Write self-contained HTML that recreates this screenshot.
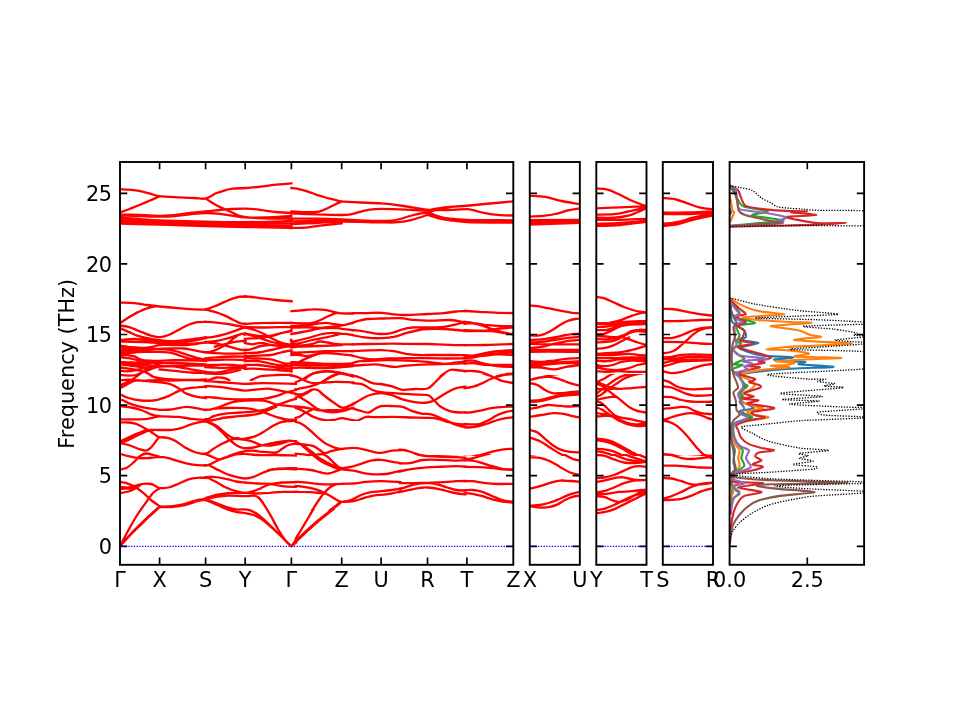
<!DOCTYPE html>
<html lang="en"><head><meta charset="utf-8"><title>Phonon band structure and DOS</title>
<style>html,body{margin:0;padding:0;background:#fff;}body{width:960px;height:720px;overflow:hidden;}svg{display:block;will-change:transform;}text{font-family:"DejaVu Sans","Liberation Sans",sans-serif;font-size:20.83px;fill:#000;}.b{fill:none;stroke:#f00;stroke-width:2.3;stroke-linecap:square;stroke-linejoin:round;}.sp{fill:none;stroke:#000;stroke-width:1.9;stroke-linecap:square;}.tk{stroke:#000;stroke-width:1.67;fill:none;}.z{stroke:#00f;stroke-width:1.35;stroke-dasharray:1.3 1.46;fill:none;}.d{fill:none;stroke-width:2.1;stroke-linejoin:round;}.t{fill:none;stroke:#000;stroke-width:1.3;stroke-dasharray:1.3 1.46;}</style></head><body>
<svg width="960" height="720" viewBox="0 0 960 720">
<rect width="960" height="720" fill="#fff"/>
<defs>
<clipPath id="c0"><rect x="120.00" y="162.00" width="393.30" height="402.80"/></clipPath>
<clipPath id="c1"><rect x="529.75" y="162.00" width="50.10" height="402.80"/></clipPath>
<clipPath id="c2"><rect x="596.30" y="162.00" width="50.20" height="402.80"/></clipPath>
<clipPath id="c3"><rect x="662.80" y="162.00" width="50.20" height="402.80"/></clipPath>
<clipPath id="c4"><rect x="729.60" y="162.00" width="134.50" height="402.80"/></clipPath>
</defs>
<defs>
<clipPath id="k0"><rect x="-1.50" y="-1.00" width="294.40" height="722.00"/></clipPath>
<clipPath id="k1"><rect x="289.90" y="-1.00" width="139.10" height="722.00"/></clipPath>
<clipPath id="k2"><rect x="426.00" y="-1.00" width="95.50" height="722.00"/></clipPath>
<clipPath id="k3"><rect x="-1.50" y="379.00" width="208.60" height="342.00"/></clipPath>
<clipPath id="k4"><rect x="289.90" y="-1.00" width="64.60" height="382.00"/><rect x="294.50" y="379.00" width="60.00" height="42.00"/><rect x="294.50" y="509.00" width="60.00" height="212.00"/></clipPath>
<clipPath id="k5"><rect x="351.50" y="-1.00" width="115.00" height="377.00"/></clipPath>
<clipPath id="k6"><rect x="351.50" y="374.00" width="115.00" height="47.00"/><rect x="398.50" y="419.00" width="68.00" height="37.00"/></clipPath>
<clipPath id="k7"><rect x="398.50" y="454.00" width="68.00" height="57.00"/><rect x="351.50" y="509.00" width="115.00" height="212.00"/></clipPath>
<clipPath id="k8"><rect x="463.50" y="-1.00" width="58.00" height="377.00"/></clipPath>
<clipPath id="k9"><rect x="463.50" y="374.00" width="58.00" height="82.00"/></clipPath>
<clipPath id="k10"><rect x="463.50" y="454.00" width="58.00" height="267.00"/></clipPath>
<clipPath id="k11"><rect x="243.70" y="-1.00" width="49.20" height="382.00"/></clipPath>
<clipPath id="k12"><rect x="289.90" y="-1.00" width="64.60" height="382.00"/></clipPath>
<clipPath id="k13"><rect x="-1.50" y="-1.00" width="208.60" height="382.00"/></clipPath>
<clipPath id="k14"><rect x="204.10" y="379.00" width="93.40" height="92.00"/></clipPath>
<clipPath id="k15"><rect x="204.10" y="469.00" width="93.40" height="252.00"/></clipPath>
<clipPath id="k16"><rect x="294.50" y="419.00" width="107.00" height="92.00"/></clipPath>
<clipPath id="k17"><rect x="204.10" y="-1.00" width="42.60" height="382.00"/></clipPath>
<clipPath id="k18"><rect x="518.50" y="-1.00" width="203.00" height="377.00"/></clipPath>
<clipPath id="k19"><rect x="518.50" y="374.00" width="203.00" height="82.00"/></clipPath>
<clipPath id="k20"><rect x="518.50" y="454.00" width="203.00" height="267.00"/></clipPath>
</defs>
<g clip-path="url(#c0)">
<path class="b" clip-path="url(#k0)" d="M120.0 189.2C121.3 189.3 125.0 189.4 128.0 189.6C130.9 189.8 134.1 190.0 137.7 190.6C141.2 191.2 145.7 192.5 149.3 193.4C153.0 194.3 154.5 195.5 159.6 196.2C164.7 196.9 174.1 197.1 180.0 197.4C185.9 197.7 190.7 197.8 195.0 198.0C199.3 198.2 202.1 199.3 205.6 198.5C209.1 197.7 212.8 194.7 216.0 193.3C219.2 191.9 222.2 191.1 225.0 190.3C227.8 189.5 229.3 189.1 232.7 188.7C236.1 188.3 241.0 188.3 245.2 188.0C249.4 187.7 252.6 187.6 257.7 187.0C262.8 186.4 270.4 185.3 276.0 184.7C281.6 184.1 288.8 183.5 291.4 183.3M120.0 212.5C121.7 211.9 126.7 210.1 130.0 208.8C133.3 207.5 136.7 206.2 140.0 204.8C143.3 203.4 146.7 201.9 150.0 200.5C153.3 199.1 158.0 196.9 159.6 196.2M205.6 198.5C206.5 199.1 209.3 200.9 211.0 202.0C212.7 203.1 214.1 203.9 216.0 205.0C217.9 206.1 219.9 207.0 222.7 208.3C225.5 209.6 229.9 211.6 232.7 212.8C235.5 214.1 236.4 215.0 239.3 215.8C242.2 216.6 244.9 217.2 250.0 217.6C255.1 218.0 263.1 218.3 270.0 218.5C276.9 218.7 287.8 218.6 291.4 218.6M120.0 214.3C123.3 214.4 133.4 214.8 140.0 215.0C146.6 215.2 154.6 215.7 159.6 215.8C164.6 215.9 166.6 215.7 170.0 215.4C173.4 215.2 176.3 214.8 180.0 214.3C183.7 213.8 187.7 213.1 192.0 212.6C196.3 212.1 200.9 211.9 205.6 211.5C210.3 211.1 215.6 210.4 220.0 210.0C224.4 209.6 227.8 209.2 232.0 209.0C236.2 208.8 240.5 208.6 245.2 208.7C249.9 208.8 254.9 209.2 260.0 209.8C265.1 210.4 270.8 211.5 276.0 212.0C281.2 212.5 288.8 212.8 291.4 213.0M120.0 215.2C123.3 215.3 133.4 215.8 140.0 216.0C146.6 216.2 153.8 216.6 159.6 216.6C165.4 216.6 169.9 216.4 175.0 216.0C180.1 215.6 184.9 214.8 190.0 214.3C195.1 213.8 200.9 213.1 205.6 213.0C210.3 212.9 213.6 213.2 218.0 213.6C222.4 214.0 227.5 215.0 232.0 215.6C236.5 216.2 239.7 217.1 245.2 217.4C250.7 217.7 257.3 217.6 265.0 217.4C272.7 217.2 287.0 216.2 291.4 216.0M120.0 217.4C126.6 217.9 145.3 219.7 159.6 220.4C173.9 221.1 191.3 221.3 205.6 221.6C219.9 221.9 230.9 222.3 245.2 222.2C259.5 222.1 283.7 221.2 291.4 221.0M120.0 219.4C126.6 219.8 145.3 221.3 159.6 222.0C173.9 222.7 191.3 223.2 205.6 223.5C219.9 223.8 230.9 224.0 245.2 224.0C259.5 224.0 283.7 223.7 291.4 223.6M120.0 221.0C126.6 221.3 145.3 222.2 159.6 222.8C173.9 223.4 191.3 224.3 205.6 224.8C219.9 225.3 230.9 225.4 245.2 225.6C259.5 225.8 283.7 226.1 291.4 226.2M120.0 223.5C126.6 223.7 145.3 224.2 159.6 224.6C173.9 225.0 191.3 225.6 205.6 226.0C219.9 226.4 230.9 226.7 245.2 227.0C259.5 227.3 283.7 227.7 291.4 227.8"/>
<path class="b" clip-path="url(#k1)" d="M291.4 188.0C292.8 188.2 297.2 188.7 300.0 189.3C302.8 189.9 305.2 190.7 308.0 191.6C310.8 192.5 314.0 193.9 316.7 194.8C319.4 195.7 321.8 196.3 324.0 197.0C326.2 197.7 328.0 198.2 330.0 198.7C332.0 199.2 334.1 199.8 336.0 200.2C337.9 200.6 337.7 201.0 341.7 201.4C345.7 201.8 353.4 202.2 360.0 202.5C366.6 202.8 374.4 202.9 381.1 203.4C387.8 203.9 394.4 204.7 400.0 205.5C405.6 206.3 410.4 207.2 415.0 208.0C419.6 208.8 425.4 209.7 427.5 210.0M291.4 211.5C293.7 211.6 300.8 212.1 305.0 212.2C309.2 212.3 313.9 212.3 316.7 212.0C319.5 211.7 320.1 211.3 322.0 210.6C323.9 209.9 325.8 209.0 328.0 208.0C330.2 207.0 332.7 205.6 335.0 204.5C337.3 203.4 340.6 201.9 341.7 201.4M291.4 213.4C295.6 213.6 308.3 214.1 316.7 214.4C325.1 214.7 336.1 215.0 341.7 215.0C347.2 215.0 347.8 214.7 350.0 214.4C352.2 214.1 353.0 213.8 355.0 213.3C357.0 212.8 359.5 211.9 362.0 211.3C364.5 210.7 366.8 210.0 370.0 209.6C373.2 209.2 376.1 208.9 381.1 208.8C386.1 208.8 394.4 209.1 400.0 209.3C405.6 209.5 410.4 209.9 415.0 210.2C419.6 210.4 425.4 210.7 427.5 210.8M291.4 218.6C295.6 218.6 308.3 218.5 316.7 218.6C325.1 218.7 334.5 219.0 341.7 219.3C348.9 219.6 353.4 220.1 360.0 220.4C366.6 220.7 375.8 221.0 381.1 221.0C386.4 221.0 388.9 220.9 392.0 220.6C395.1 220.3 397.0 219.8 400.0 219.0C403.0 218.2 406.7 216.9 410.0 216.0C413.3 215.1 417.1 214.2 420.0 213.6C422.9 213.0 426.2 212.6 427.5 212.4M291.4 221.4C295.6 221.3 308.3 221.1 316.7 221.0C325.1 220.9 337.5 220.7 341.7 220.6M291.4 224.0C295.6 223.8 308.3 223.4 316.7 223.0C325.1 222.6 331.0 221.7 341.7 221.6C352.4 221.5 372.2 222.3 381.1 222.4C390.0 222.5 391.0 222.6 395.0 222.4C399.0 222.2 401.7 222.0 405.0 221.4C408.3 220.8 411.2 220.1 415.0 219.0C418.8 217.9 425.4 215.5 427.5 214.8M291.4 228.0C293.7 227.9 300.2 228.0 305.0 227.6C309.8 227.2 313.9 226.3 320.0 225.6C326.1 224.9 338.1 223.7 341.7 223.3"/>
<path class="b" clip-path="url(#k2)" d="M427.5 210.6C428.5 211.3 431.1 213.5 433.3 214.6C435.6 215.7 438.2 216.3 441.0 217.0C443.8 217.7 445.7 218.1 450.0 218.6C454.3 219.1 460.2 219.7 466.9 220.0C473.6 220.3 482.3 220.1 490.0 220.2C497.7 220.2 509.4 220.3 513.3 220.3M427.5 211.0C428.5 210.7 429.6 209.9 433.3 209.2C437.1 208.5 444.4 207.6 450.0 207.0C455.6 206.4 460.2 206.4 466.9 205.8C473.6 205.2 482.3 204.3 490.0 203.6C497.7 202.9 509.4 201.8 513.3 201.4M427.5 210.0C430.4 210.0 438.4 210.1 445.0 210.0C451.6 209.9 462.2 209.2 466.9 209.2C471.6 209.2 470.8 209.7 473.0 210.2C475.2 210.7 477.5 211.4 480.0 212.0C482.5 212.6 485.5 213.2 488.0 213.6C490.5 214.0 492.2 214.3 495.0 214.6C497.8 214.9 501.9 215.2 505.0 215.3C508.1 215.5 511.9 215.5 513.3 215.5M427.5 212.5C429.2 212.0 434.2 210.3 438.0 209.4C441.8 208.5 445.2 207.6 450.0 207.0C454.8 206.4 460.2 206.2 466.9 205.6C473.6 205.0 482.3 204.2 490.0 203.5C497.7 202.8 509.4 201.8 513.3 201.4M427.5 213.3C429.1 213.8 433.2 215.4 437.0 216.4C440.8 217.4 445.0 218.4 450.0 219.2C455.0 220.0 460.2 220.9 466.9 221.3C473.6 221.7 482.3 221.6 490.0 221.7C497.7 221.8 509.4 221.8 513.3 221.8M427.5 214.8C429.6 215.4 436.2 217.7 440.0 218.6C443.8 219.5 445.5 219.7 450.0 220.3C454.5 220.9 456.3 221.6 466.9 222.0C477.4 222.4 505.6 222.5 513.3 222.6"/>
<path class="b" clip-path="url(#k3)" d="M120.0 325.4C121.4 325.6 125.0 325.6 128.5 326.5C132.0 327.4 137.2 329.5 141.0 330.9C144.8 332.2 147.9 333.7 151.0 334.6C154.1 335.5 157.1 336.1 159.6 336.2C162.1 336.4 163.5 336.0 166.0 335.2C168.5 334.5 171.6 332.9 174.4 331.5C177.1 330.1 179.9 328.5 182.6 327.1C185.4 325.8 188.6 324.4 191.0 323.4C193.4 322.4 194.8 321.8 197.2 321.2C199.7 320.7 202.5 320.3 205.6 320.2C208.8 320.2 212.6 320.5 216.0 320.8C219.4 321.0 222.7 321.4 226.0 322.0C229.3 322.6 234.3 323.9 236.0 324.2M120.0 327.9C121.4 328.5 125.7 330.4 128.5 331.6C131.3 332.8 134.1 334.1 136.9 335.0C139.6 335.9 142.5 336.6 145.1 337.2C147.8 337.9 150.2 338.3 152.6 338.8C155.0 339.2 156.7 339.6 159.6 340.0C162.5 340.4 166.3 340.9 170.1 341.0C174.0 341.1 179.1 340.7 182.6 340.4C186.1 340.0 188.6 339.4 191.0 339.0C193.4 338.6 194.8 338.3 197.2 338.0C199.7 337.7 202.5 337.4 205.6 337.0C208.8 336.6 212.6 336.2 216.0 335.5C219.4 334.8 222.7 333.9 226.0 333.0C229.3 332.1 234.3 330.4 236.0 329.9M120.0 339.6C122.1 339.7 128.4 339.9 132.6 340.0C136.8 340.1 141.8 340.2 145.1 340.4C148.5 340.5 150.2 340.6 152.6 340.9C155.0 341.1 156.7 341.6 159.6 341.9C162.5 342.2 166.3 342.5 170.1 342.6C174.0 342.7 178.3 342.6 182.6 342.4C186.9 342.1 192.2 341.5 196.0 341.1C199.8 340.8 202.3 340.5 205.6 340.1C209.0 339.7 212.6 339.3 216.0 338.8C219.4 338.2 222.7 337.6 226.0 336.8C229.3 335.9 234.3 334.1 236.0 333.6M120.0 341.9C121.4 341.9 125.7 342.0 128.5 342.1C131.3 342.2 134.1 342.6 136.9 342.6C139.6 342.7 142.5 342.5 145.1 342.4C147.8 342.2 150.2 342.0 152.6 341.9C155.0 341.8 158.5 341.9 159.6 341.9M120.0 343.4C121.4 343.6 125.7 344.5 128.5 345.0C131.3 345.5 134.1 346.0 136.9 346.2C139.6 346.5 142.5 346.6 145.1 346.5C147.8 346.4 150.2 345.8 152.6 345.4C155.0 345.0 156.7 344.4 159.6 344.1C162.5 343.9 166.3 344.0 170.1 344.0C174.0 344.0 178.3 344.1 182.6 344.2C186.9 344.4 192.2 344.8 196.0 344.9C199.8 344.9 201.2 344.5 205.6 344.5C210.0 344.5 217.2 344.5 222.2 344.9C227.3 345.2 233.7 346.4 236.0 346.8M120.0 345.0C121.4 345.4 125.7 346.6 128.5 347.1C131.3 347.6 134.1 347.9 136.9 348.0C139.6 348.1 142.5 348.0 145.1 348.0C147.8 348.0 150.2 347.9 152.6 348.0C155.0 348.1 156.7 348.2 159.6 348.4C162.5 348.5 167.0 348.5 170.1 348.9C173.3 349.2 175.7 349.8 178.5 350.4C181.3 350.9 184.0 351.5 186.9 352.1C189.8 352.7 192.9 353.4 196.0 354.0C199.1 354.6 201.2 355.2 205.6 355.8C210.0 356.2 217.2 356.8 222.2 357.0C227.3 357.2 233.7 357.0 236.0 357.0M120.0 347.5C121.4 347.6 125.0 348.1 128.5 348.4C132.0 348.6 135.8 348.9 141.0 348.9C146.2 348.8 154.4 348.1 159.6 348.0C164.8 347.9 168.3 348.0 172.2 348.0C176.2 348.0 180.0 347.8 183.5 348.0C187.0 348.2 190.2 349.0 193.5 349.5C196.8 350.0 200.6 351.0 203.5 351.2C206.4 351.5 208.3 351.7 211.0 351.2C213.7 350.8 216.8 349.7 219.8 348.6C222.7 347.6 225.8 346.1 228.5 344.9C231.2 343.7 234.8 342.1 236.0 341.5M120.0 349.6C121.4 349.8 125.0 350.2 128.5 350.4C132.0 350.5 137.0 350.5 141.0 350.6C145.0 350.7 149.5 350.9 152.6 351.0C155.7 351.1 156.4 350.8 159.6 351.0C162.9 351.2 168.7 351.6 172.2 352.4C175.8 353.1 177.9 354.5 181.0 355.5C184.1 356.5 186.9 357.9 191.0 358.6C195.1 359.4 200.4 359.9 205.6 360.1C210.8 360.3 217.2 360.1 222.2 359.9C227.3 359.7 233.7 359.1 236.0 359.0M120.0 351.8C121.4 351.7 125.7 351.6 128.5 351.5C131.3 351.4 134.1 351.0 136.9 350.9C139.6 350.7 143.8 350.6 145.1 350.5M120.0 353.6C121.4 353.7 125.7 353.9 128.5 354.2C131.3 354.6 134.1 354.8 136.9 355.5C139.6 356.2 142.5 357.6 145.1 358.2C147.8 358.9 150.2 359.2 152.6 359.5C155.0 359.8 156.4 360.0 159.6 360.0C162.9 360.0 167.0 359.7 172.2 359.8C177.5 359.8 185.4 360.1 191.0 360.2C196.6 360.4 200.4 360.7 205.6 360.8C210.8 360.8 217.2 360.6 222.2 360.5C227.3 360.4 233.7 360.1 236.0 360.0M120.0 355.5C121.4 355.8 125.7 356.9 128.5 357.5C131.3 358.1 134.1 358.7 136.9 359.2C139.6 359.8 142.5 360.4 145.1 360.8C147.8 361.1 150.2 361.4 152.6 361.5C155.0 361.6 158.5 361.5 159.6 361.5M120.0 359.1C122.1 359.4 128.4 360.4 132.6 360.9C136.8 361.4 140.6 361.7 145.1 362.0C149.6 362.3 155.1 362.4 159.6 362.5C164.1 362.6 167.9 362.5 172.2 362.4C176.6 362.3 180.4 362.1 186.0 362.0C191.6 361.9 199.6 361.9 205.6 361.8C211.7 361.6 217.2 361.3 222.2 361.1C227.3 360.9 233.7 360.6 236.0 360.5M120.0 361.1C121.4 361.4 125.0 362.2 128.5 362.8C132.0 363.3 136.8 364.0 141.0 364.5C145.2 365.0 150.4 365.6 153.5 365.9C156.6 366.1 156.9 366.1 159.6 366.1C162.3 366.2 166.2 365.9 169.8 366.1C173.3 366.3 177.5 366.9 181.0 367.4C184.5 367.9 186.9 368.5 191.0 369.2C195.1 370.0 200.4 371.3 205.6 371.8C210.8 372.2 217.2 372.1 222.2 371.8C227.3 371.4 233.7 370.2 236.0 369.9M120.0 364.0C121.4 364.2 125.0 364.8 128.5 365.2C132.0 365.8 137.9 366.6 141.0 367.0C144.1 367.4 145.2 367.7 147.2 367.8C149.3 367.8 151.4 367.4 153.5 367.1C155.6 366.9 156.5 366.5 159.6 366.2C162.8 366.0 167.0 366.0 172.2 365.9C177.5 365.7 185.4 365.5 191.0 365.2C196.6 365.0 200.4 364.7 205.6 364.5C210.8 364.3 217.2 364.2 222.2 364.2C227.3 364.2 233.7 364.5 236.0 364.5M120.0 367.4C122.5 367.7 130.6 368.8 134.8 369.5C138.9 370.2 141.6 370.5 144.8 371.8C147.9 373.0 151.0 375.7 153.5 376.8C156.0 377.8 156.5 377.6 159.6 378.0C162.8 378.4 167.0 378.9 172.2 379.2C177.5 379.6 185.4 379.9 191.0 379.9C196.6 379.9 200.4 379.6 205.6 379.2C210.8 378.9 217.2 378.2 222.2 377.8C227.3 377.3 233.7 376.9 236.0 376.8M120.0 370.5C121.4 370.6 125.0 371.4 128.5 371.1C132.0 370.8 137.9 369.2 141.0 368.6C144.1 368.0 145.2 367.7 147.2 367.4C149.3 367.0 152.5 366.6 153.5 366.5M120.0 374.9C121.4 375.0 125.8 375.5 128.5 375.5C131.2 375.5 133.5 375.5 136.0 374.9C138.5 374.2 140.6 372.9 143.5 371.8C146.4 370.6 150.8 368.9 153.5 368.0C156.2 367.1 158.6 366.8 159.6 366.5M120.0 385.5C122.0 384.5 128.1 381.8 132.2 379.2C136.4 376.8 141.2 372.7 144.8 370.5C148.3 368.3 151.0 367.3 153.5 366.1C156.0 365.0 158.6 364.0 159.6 363.6M120.0 380.5C121.4 380.3 125.4 379.5 128.5 379.5C131.6 379.5 135.4 380.3 138.5 380.5C141.6 380.7 143.7 380.6 147.2 380.5C150.8 380.4 155.5 380.1 159.6 380.1C163.8 380.1 167.9 380.5 172.2 380.5C176.6 380.5 180.4 380.2 186.0 380.2C191.6 380.2 199.6 380.2 205.6 380.5C211.7 380.8 217.2 381.3 222.2 381.8C227.3 382.2 233.7 382.8 236.0 383.0M120.0 388.4C121.4 387.6 125.8 384.9 128.5 383.6C131.2 382.3 132.9 380.9 136.0 380.5C139.1 380.1 143.3 380.8 147.2 381.1C151.2 381.4 156.1 382.0 159.6 382.4C163.2 382.8 166.0 383.0 168.5 383.6C171.0 384.2 172.3 384.8 174.4 385.9C176.5 386.9 179.1 388.6 181.0 389.9C182.9 391.1 183.5 392.2 186.0 393.4C188.5 394.5 192.7 395.9 196.0 396.6C199.3 397.4 202.7 397.7 206.0 398.0C209.3 398.3 211.0 398.4 216.0 398.6C221.0 398.8 232.7 399.1 236.0 399.2M120.0 394.2C121.4 394.9 125.0 397.0 128.5 398.0C132.0 399.0 136.8 400.1 141.0 400.5C145.2 400.9 150.4 400.7 153.5 400.5C156.6 400.3 157.1 400.0 159.6 399.2C162.1 398.5 165.4 397.5 168.5 396.1C171.6 394.8 175.6 392.4 178.5 391.1C181.4 389.9 182.9 389.2 186.0 388.6C189.1 388.0 194.0 387.6 197.2 387.4C200.5 387.1 201.5 386.8 205.6 387.0C209.8 387.2 217.2 388.0 222.2 388.6C227.3 389.2 233.7 390.2 236.0 390.5M159.6 369.2C161.7 369.5 167.0 370.0 172.2 370.5C177.5 371.0 185.4 372.0 191.0 372.4C196.6 372.8 200.4 372.6 205.6 372.8C210.8 372.9 217.2 373.1 222.2 373.0C227.3 372.9 233.7 372.5 236.0 372.4M122.2 400.0C123.3 400.5 126.2 402.2 128.5 403.1C130.8 404.1 132.9 404.8 136.0 405.6C139.1 406.5 143.3 407.4 147.2 408.1C151.2 408.8 155.5 409.5 159.6 409.8C163.8 410.0 167.9 409.9 172.2 409.4C176.6 408.9 182.0 407.1 186.0 406.9C190.0 406.7 192.7 407.6 196.0 408.1C199.3 408.6 202.3 409.6 205.6 409.8C209.0 409.9 212.6 409.4 216.0 408.8C219.4 408.1 222.7 406.7 226.0 405.6C229.3 404.6 234.3 403.0 236.0 402.5M120.0 406.2C121.8 406.5 127.5 406.9 131.0 407.5C134.5 408.1 137.7 408.9 141.0 410.0C144.3 411.1 147.9 413.3 151.0 414.4C154.1 415.4 155.0 415.8 159.6 416.2C164.2 416.7 173.3 416.5 178.5 416.9C183.7 417.3 186.5 418.2 191.0 418.8C195.5 419.3 201.5 420.0 205.6 420.0C209.8 420.0 210.9 419.3 216.0 418.8C221.1 418.2 232.7 417.2 236.0 416.9M120.0 419.4C122.5 419.4 130.2 419.5 134.8 419.4C139.3 419.3 143.7 419.2 147.2 418.8C150.8 418.3 153.9 417.3 156.0 416.9C158.1 416.5 159.0 416.4 159.6 416.2M205.6 419.8C206.5 419.3 208.6 417.8 211.0 416.9C213.4 416.0 215.6 415.1 219.8 414.4C223.9 413.6 233.3 412.8 236.0 412.5M120.0 422.5C121.4 422.5 125.8 422.3 128.5 422.5C131.2 422.7 133.5 422.9 136.0 423.8C138.5 424.6 141.0 426.1 143.5 427.5C146.0 428.9 148.7 430.4 151.0 431.9C153.3 433.3 155.8 435.4 157.2 436.2C158.7 437.1 159.2 437.1 159.6 437.2M120.0 441.2C121.4 440.6 125.4 438.9 128.5 437.5C131.6 436.1 135.4 434.4 138.5 433.1C141.6 431.9 143.7 430.5 147.2 430.0C150.8 429.5 155.5 430.0 159.6 430.0C163.8 430.0 168.7 430.1 172.2 429.8C175.8 429.4 177.9 429.0 181.0 428.1C184.1 427.2 187.7 425.4 191.0 424.4C194.3 423.3 198.6 422.4 201.0 421.9C203.4 421.4 204.0 421.4 205.6 421.5C207.3 421.6 208.9 421.3 211.0 422.5C213.1 423.7 216.0 426.5 218.5 428.8C221.0 431.0 223.5 434.0 226.0 436.2C228.5 438.5 231.8 441.1 233.5 442.5C235.2 443.9 235.6 444.1 236.0 444.4M120.0 443.1C121.4 442.6 125.4 441.4 128.5 440.0C131.6 438.6 135.4 436.5 138.5 435.0C141.6 433.5 144.8 432.0 147.2 431.2C149.8 430.5 152.5 430.4 153.5 430.2M120.0 443.1C121.4 443.4 125.4 444.1 128.5 445.0C131.6 445.9 135.6 447.8 138.5 448.8C141.4 449.7 143.9 450.8 146.0 450.6C148.1 450.4 149.3 449.1 151.0 447.5C152.7 445.9 154.6 442.9 156.0 441.2C157.4 439.6 157.5 438.0 159.6 437.5C161.7 437.0 165.8 437.5 168.5 438.1C171.2 438.8 173.1 439.6 176.0 441.2C178.9 442.9 182.7 446.2 186.0 448.1C189.3 450.0 192.7 451.5 196.0 452.5C199.3 453.5 203.1 454.1 205.6 454.0C208.1 453.9 208.6 453.2 211.0 451.9C213.4 450.6 216.8 447.9 219.8 446.2C222.7 444.6 225.8 443.0 228.5 441.9C231.2 440.7 234.8 439.8 236.0 439.4M120.0 453.8C121.4 454.2 125.4 455.5 128.5 456.2C131.6 457.0 135.4 457.8 138.5 458.1C141.6 458.4 143.7 458.3 147.2 458.1C150.8 457.9 156.1 456.9 159.6 456.9C163.2 456.9 165.4 457.4 168.5 458.1C171.6 458.9 174.8 460.2 178.5 461.2C182.2 462.3 186.5 463.7 191.0 464.4C195.5 465.0 201.9 465.5 205.6 465.2C209.4 465.0 210.7 464.2 213.5 463.1C216.3 462.0 219.3 460.1 222.2 458.8C225.2 457.4 228.7 455.9 231.0 455.0C233.3 454.1 235.2 453.4 236.0 453.1M120.0 469.4C121.0 469.2 123.8 469.3 126.0 468.1C128.2 467.0 131.2 464.5 133.5 462.5C135.8 460.5 137.7 457.8 139.8 456.2C141.8 454.8 143.7 453.7 146.0 453.5C148.3 453.3 151.2 454.4 153.5 455.0C155.8 455.6 158.6 456.6 159.6 456.9M205.6 454.0C206.9 454.6 210.7 456.6 213.5 457.5C216.3 458.4 219.3 459.3 222.2 459.4C225.2 459.5 228.7 458.5 231.0 458.1C233.3 457.7 235.2 457.1 236.0 456.9M205.6 465.2C207.4 465.9 212.6 468.0 216.0 469.4C219.4 470.8 222.7 472.5 226.0 473.8C229.3 475.0 234.3 476.4 236.0 476.9M211.0 423.8C212.2 424.9 216.0 428.3 218.5 430.6C221.0 432.9 223.5 435.4 226.0 437.5C228.5 439.6 231.8 441.9 233.5 443.1C235.2 444.4 235.6 444.7 236.0 445.0M120.0 481.9C121.4 482.2 125.8 482.8 128.5 483.8C131.2 484.7 133.5 485.9 136.0 487.5C138.5 489.1 141.0 491.0 143.5 493.1C146.0 495.2 148.3 497.8 151.0 500.0C153.7 502.2 158.2 505.2 159.6 506.2M120.0 486.9C121.4 487.0 125.8 487.7 128.5 487.5C131.2 487.3 133.5 486.2 136.0 485.6C138.5 485.0 141.0 484.0 143.5 483.8C146.0 483.5 148.9 483.6 151.0 484.0C153.1 484.4 154.6 485.6 156.0 486.2C157.4 486.9 157.5 487.9 159.6 488.1C161.7 488.3 165.4 488.2 168.5 487.5C171.6 486.8 175.2 485.1 178.5 483.8C181.8 482.4 185.4 480.4 188.5 479.4C191.6 478.4 194.4 478.0 197.2 477.8C200.1 477.5 202.5 477.9 205.6 477.8C208.8 477.6 212.6 476.9 216.0 476.9C219.4 476.8 222.7 477.0 226.0 477.5C229.3 478.0 234.3 479.6 236.0 480.0M120.0 493.1C121.4 492.9 126.0 492.2 128.5 491.5C131.0 490.8 132.9 489.7 134.8 488.8C136.6 487.8 138.9 486.1 139.8 485.6M120.0 488.8C121.4 488.7 125.8 488.6 128.5 488.5C131.2 488.4 134.8 488.2 136.0 488.1M120.0 546.2C121.4 543.5 125.6 535.2 128.5 530.0C131.4 524.8 134.3 519.6 137.2 515.0C140.2 510.4 143.3 506.2 146.0 502.5C148.7 498.8 151.2 494.8 153.5 492.5C155.8 490.2 158.6 489.2 159.6 488.5M120.0 546.2C121.8 544.2 127.1 537.9 131.0 533.8C134.9 529.6 139.8 524.9 143.5 521.2C147.2 517.6 150.8 514.3 153.5 511.9C156.2 509.4 158.6 507.4 159.6 506.5M120.0 546.2C121.9 544.2 127.3 538.1 131.2 534.0C135.2 529.9 140.0 525.3 143.8 521.8C147.5 518.2 151.1 514.9 153.8 512.5C156.4 510.1 158.6 508.1 159.6 507.2M159.6 506.5C161.7 506.5 168.1 506.7 172.2 506.2C176.4 505.8 180.6 504.8 184.8 503.8C188.9 502.7 193.8 500.8 197.2 500.0C200.7 499.2 202.5 499.4 205.6 498.8C208.8 498.1 212.6 497.0 216.0 496.2C219.4 495.5 222.7 494.8 226.0 494.4C229.3 494.0 234.3 493.9 236.0 493.8M159.6 507.0C161.7 507.0 168.1 507.3 172.2 507.0C176.4 506.7 180.6 506.2 184.8 505.2C188.9 504.3 193.8 502.2 197.2 501.2C200.7 500.3 202.5 500.3 205.6 499.8C208.8 499.2 212.6 498.3 216.0 497.8C219.4 497.2 222.7 496.6 226.0 496.2C229.3 495.9 234.3 495.7 236.0 495.6M205.6 499.4C207.4 500.0 212.6 501.8 216.0 503.1C219.4 504.5 222.7 506.1 226.0 507.5C229.3 508.9 234.3 510.6 236.0 511.2M205.6 500.0C207.4 500.7 212.6 502.5 216.0 504.0C219.4 505.5 222.7 507.3 226.0 508.8C229.3 510.2 234.3 512.1 236.0 512.8M205.6 477.8C206.9 478.3 210.7 479.8 213.5 481.2C216.3 482.7 219.3 484.7 222.2 486.2C225.2 487.8 228.7 489.6 231.0 490.6C233.3 491.7 235.2 492.2 236.0 492.5M216.0 470.0C217.2 470.5 221.0 472.2 223.5 473.1C226.0 474.1 228.9 475.0 231.0 475.6C233.1 476.2 235.2 476.7 236.0 476.9"/>
<path class="b" clip-path="url(#k4)" d="M236.0 298.5C237.5 298.2 241.1 296.9 245.2 296.9C249.4 296.8 256.3 297.6 261.0 298.1C265.7 298.6 268.4 299.2 273.5 299.8C278.6 300.3 288.4 301.0 291.4 301.2M236.0 319.4C236.8 319.9 238.9 321.6 241.0 322.2C243.1 322.9 244.1 323.4 248.5 323.5C252.9 323.6 260.1 323.2 267.2 323.1C274.4 323.0 287.4 322.8 291.4 322.8M236.0 325.6C237.5 325.6 241.1 325.2 245.2 325.2C249.4 325.2 256.3 325.5 261.0 325.6C265.7 325.8 268.4 326.0 273.5 326.2C278.6 326.5 288.4 326.8 291.4 326.9M236.0 323.8C237.5 324.4 241.1 325.8 245.2 327.5C249.4 329.2 256.3 331.8 261.0 333.8C265.7 335.7 269.3 337.7 273.5 339.4C277.7 341.0 283.0 342.8 286.0 343.8C289.0 344.7 290.5 344.8 291.4 345.0M236.0 327.5C238.1 327.9 243.3 328.5 248.5 330.0C253.7 331.5 262.0 334.4 267.2 336.2C272.5 338.1 275.7 339.9 279.8 341.2C283.8 342.6 289.4 343.9 291.4 344.4M236.0 340.0C238.1 339.9 244.3 340.0 248.5 339.4C252.7 338.8 256.8 337.5 261.0 336.5C265.2 335.5 269.3 334.1 273.5 333.1C277.7 332.1 283.0 331.1 286.0 330.6C289.0 330.1 290.5 330.1 291.4 330.0M236.0 331.2C237.5 331.0 242.1 330.1 245.2 330.0C248.4 329.9 251.1 330.4 254.8 330.6C258.4 330.8 263.1 331.3 267.2 331.2C271.4 331.2 275.7 330.5 279.8 330.2C283.8 330.0 289.4 329.8 291.4 329.8M236.0 335.0C237.5 334.8 242.1 333.6 245.2 333.8C248.4 333.9 251.1 335.0 254.8 335.6C258.4 336.2 263.1 336.7 267.2 337.2C271.4 337.8 275.7 338.3 279.8 338.8C283.8 339.2 289.4 339.8 291.4 340.0M236.0 342.5C237.5 342.1 242.1 340.7 245.2 340.2C248.4 339.8 252.1 340.0 254.8 339.8C257.4 339.5 260.0 339.1 261.0 339.0M236.0 348.1C237.5 348.4 242.1 350.1 245.2 350.0C248.4 349.9 251.1 348.3 254.8 347.5C258.4 346.7 263.1 345.5 267.2 345.0C271.4 344.5 275.7 344.8 279.8 344.8C283.8 344.8 289.4 345.0 291.4 345.0M236.0 353.8C238.1 353.6 244.3 353.5 248.5 353.1C252.7 352.7 256.8 352.0 261.0 351.2C265.2 350.5 269.3 349.5 273.5 348.8C277.7 348.0 283.0 347.3 286.0 346.9C289.0 346.5 290.5 346.4 291.4 346.2M236.0 356.2C238.1 356.2 243.3 356.4 248.5 356.2C253.7 356.1 262.0 356.2 267.2 355.6C272.5 355.0 276.6 353.2 279.8 352.5C282.9 351.8 284.1 351.5 286.0 351.2C287.9 351.0 290.5 350.8 291.4 350.8M236.0 358.8C239.1 358.8 249.5 358.8 254.8 358.8C260.0 358.7 263.5 358.2 267.2 358.5C271.0 358.8 274.5 360.0 277.2 360.6C280.0 361.3 281.1 362.0 283.5 362.5C285.9 363.0 290.1 363.5 291.4 363.8M236.0 361.2C239.1 361.3 248.5 361.2 254.8 361.5C261.0 361.8 267.4 362.4 273.5 363.1C279.6 363.8 288.4 365.2 291.4 365.6M236.0 363.8C239.1 363.8 248.5 363.7 254.8 364.0C261.0 364.3 267.4 365.0 273.5 365.6C279.6 366.2 288.4 367.2 291.4 367.5M236.0 366.5C239.1 366.5 248.5 366.3 254.8 366.5C261.0 366.7 267.4 367.3 273.5 367.8C279.6 368.2 288.4 369.1 291.4 369.4M236.0 369.0C239.1 369.0 248.5 368.6 254.8 368.8C261.0 368.9 267.4 369.6 273.5 370.0C279.6 370.4 288.4 371.0 291.4 371.2M236.0 370.6C240.2 370.7 251.8 370.9 261.0 371.0C270.2 371.1 286.3 371.0 291.4 371.0M236.0 382.5C238.1 382.4 244.3 382.7 248.5 381.9C252.7 381.0 256.8 378.5 261.0 377.5C265.2 376.5 268.4 376.3 273.5 376.0C278.6 375.7 287.2 375.4 291.4 375.6C295.5 375.9 296.1 376.6 298.5 377.5C300.9 378.4 303.5 380.3 306.0 381.2C308.5 382.2 310.6 382.9 313.5 383.1C316.4 383.3 319.8 382.7 323.5 382.5C327.2 382.3 330.6 381.9 336.0 381.9C341.4 381.9 352.7 382.4 356.0 382.5M236.0 383.8C239.1 383.6 248.5 383.2 254.8 383.1C261.0 383.1 268.3 383.4 273.5 383.5C278.7 383.6 282.5 383.9 286.0 383.8C289.5 383.6 291.8 383.3 294.8 382.5C297.7 381.7 300.8 380.1 303.5 378.8C306.2 377.4 308.1 375.5 311.0 374.4C313.9 373.2 317.7 372.4 321.0 371.9C324.3 371.4 327.5 371.3 331.0 371.5C334.5 371.7 337.6 372.3 341.8 373.1C345.9 373.9 353.6 375.7 356.0 376.2M236.0 388.8C238.1 389.0 243.3 389.9 248.5 390.0C253.7 390.1 262.0 389.1 267.2 389.4C272.5 389.7 276.0 391.1 279.8 391.9C283.5 392.6 286.2 393.3 289.8 393.8C293.3 394.2 297.9 394.8 301.0 394.4C304.1 394.0 306.4 392.1 308.5 391.2C310.6 390.4 311.8 389.5 313.5 389.4C315.2 389.3 316.8 389.7 318.5 390.6C320.2 391.6 321.0 393.0 323.5 395.0C326.0 397.0 330.5 400.4 333.5 402.5C336.5 404.6 339.2 406.9 341.8 407.5C344.2 408.1 346.1 407.2 348.5 406.2C350.9 405.3 354.8 402.6 356.0 401.9M236.0 396.9C238.1 396.7 244.3 395.6 248.5 395.6C252.7 395.6 257.9 396.7 261.0 396.9C264.1 397.1 264.1 397.4 267.2 396.9C270.4 396.4 276.0 394.9 279.8 393.8C283.5 392.6 286.6 390.8 289.8 390.0C292.9 389.2 295.0 389.4 298.5 388.8C302.0 388.1 307.2 387.3 311.0 386.2C314.8 385.2 317.7 384.1 321.0 382.5C324.3 380.9 328.1 378.3 331.0 376.9C333.9 375.4 337.2 374.3 338.5 373.8M236.0 400.0C239.1 399.9 248.5 399.4 254.8 399.4C261.0 399.4 268.3 400.0 273.5 400.0C278.7 400.0 282.2 399.8 286.0 399.4C289.8 399.0 293.1 398.2 296.0 397.5C298.9 396.8 301.0 396.1 303.5 395.0C306.0 393.9 309.8 391.4 311.0 390.6M298.5 396.2C300.2 397.3 305.4 400.4 308.5 402.5C311.6 404.6 314.3 407.2 317.2 408.8C320.2 410.3 322.9 411.0 326.0 411.6C329.1 412.2 333.1 412.4 336.0 412.2C338.9 412.1 341.2 411.6 343.5 411.0C345.8 410.4 347.9 409.3 350.0 408.8C352.1 408.2 355.0 407.7 356.0 407.5M236.0 401.9C240.2 401.8 255.2 401.0 261.0 401.2C266.8 401.5 267.9 402.5 271.0 403.1C274.1 403.8 276.2 404.5 279.8 405.0C283.3 405.5 288.1 405.8 292.2 406.2C296.4 406.7 300.6 406.9 304.8 407.5C308.9 408.1 313.1 409.5 317.2 410.0C321.4 410.5 325.7 410.3 329.8 410.2C333.8 410.2 337.4 410.2 341.8 409.8C346.1 409.3 353.6 407.9 356.0 407.5M236.0 408.1C238.1 408.0 244.8 407.2 248.5 407.5C252.2 407.8 255.4 409.1 258.5 410.0C261.6 410.9 264.1 411.9 267.2 413.1C270.4 414.3 273.7 416.3 277.2 417.2C280.8 418.2 285.0 419.0 288.5 419.0C292.0 419.0 295.8 418.2 298.5 417.2C301.2 416.3 302.7 414.3 304.8 413.1C306.8 412.0 310.0 410.7 311.0 410.2M236.0 412.5C238.1 412.5 244.3 412.6 248.5 412.5C252.7 412.4 257.2 412.5 261.0 411.9C264.8 411.2 267.9 409.6 271.0 408.8C274.1 407.9 276.6 407.2 279.8 406.9C282.9 406.6 286.6 406.6 289.8 406.9C292.9 407.2 295.8 407.8 298.5 408.8C301.2 409.7 303.5 411.1 306.0 412.5C308.5 413.9 310.6 415.6 313.5 416.9C316.4 418.1 320.2 419.5 323.5 420.0C326.8 420.5 330.5 420.3 333.5 420.0C336.5 419.7 339.2 418.2 341.8 418.1C344.2 418.0 346.1 418.9 348.5 419.4C350.9 419.9 354.8 420.9 356.0 421.2M236.0 415.0C238.1 414.9 244.3 414.7 248.5 414.4C252.7 414.1 257.9 413.6 261.0 413.1C264.1 412.6 266.2 411.6 267.2 411.2M236.0 416.9C238.1 416.9 244.3 417.4 248.5 416.9C252.7 416.4 258.9 414.3 261.0 413.8M236.0 437.5C238.1 437.7 244.8 438.9 248.5 438.5C252.2 438.1 255.2 436.7 258.5 435.0C261.8 433.3 265.2 430.1 268.5 428.1C271.8 426.1 275.2 424.3 278.5 423.1C281.8 422.0 285.2 421.4 288.5 421.2C291.8 421.1 295.6 421.5 298.5 422.5C301.4 423.5 303.5 425.4 306.0 427.5C308.5 429.6 311.0 432.7 313.5 435.0C316.0 437.3 318.3 439.4 321.0 441.2C323.7 443.1 326.8 444.9 329.8 446.2C332.7 447.6 335.4 449.1 338.5 449.4C341.6 449.7 345.6 448.4 348.5 448.1C351.4 447.8 354.8 447.6 356.0 447.5M236.0 439.4C238.1 439.5 244.3 439.3 248.5 440.0C252.7 440.7 256.8 443.4 261.0 443.8C265.2 444.1 269.3 442.3 273.5 441.9C277.7 441.5 282.2 441.1 286.0 441.2C289.8 441.4 292.7 441.9 296.0 442.5C299.3 443.1 302.5 443.8 306.0 445.0C309.5 446.2 313.9 448.1 317.2 450.0C320.6 451.9 323.7 454.6 326.0 456.2C328.3 457.9 330.2 459.4 331.0 460.0M236.0 443.8C237.7 444.4 241.8 447.3 246.0 447.5C250.2 447.7 256.4 445.8 261.0 445.0C265.6 444.2 269.3 443.2 273.5 442.5C277.7 441.8 282.5 440.7 286.0 440.6C289.5 440.5 292.0 441.1 294.8 441.9C297.5 442.6 299.5 443.4 302.2 445.0C305.0 446.6 307.9 449.2 311.0 451.2C314.1 453.3 318.5 455.9 321.0 457.5C323.5 459.1 325.2 460.1 326.0 460.6M236.0 447.5C238.1 447.9 244.3 449.6 248.5 450.0C252.7 450.4 256.8 449.6 261.0 450.0C265.2 450.4 270.4 452.7 273.5 452.5C276.6 452.3 277.2 450.0 279.8 448.8C282.2 447.5 285.8 445.6 288.5 445.0C291.2 444.4 293.5 444.2 296.0 445.0C298.5 445.8 301.0 448.1 303.5 450.0C306.0 451.9 308.9 454.5 311.0 456.2C313.1 458.0 315.2 459.9 316.0 460.6M236.0 452.5C238.1 452.4 244.3 451.9 248.5 451.9C252.7 451.9 256.8 452.3 261.0 452.5C265.2 452.7 269.3 453.0 273.5 453.1C277.7 453.2 280.8 453.0 286.0 453.1C291.2 453.2 299.5 453.6 304.8 453.8C310.0 453.9 313.7 453.9 317.2 453.8C320.8 453.6 322.9 453.8 326.0 453.1C329.1 452.5 333.4 450.7 336.0 450.0C338.6 449.3 340.8 449.2 341.8 449.0M236.0 456.2C238.1 456.2 244.3 456.5 248.5 456.2C252.7 456.0 255.8 455.0 261.0 455.0C266.2 455.0 273.5 456.0 279.8 456.2C286.0 456.5 293.3 455.9 298.5 456.2C303.7 456.6 307.9 457.5 311.0 458.1C314.1 458.8 316.2 459.9 317.2 460.2M236.0 457.5C238.1 457.0 243.3 454.9 248.5 454.4C253.7 453.9 261.0 454.4 267.2 454.4C273.5 454.4 279.8 454.2 286.0 454.4C292.2 454.6 300.2 454.8 304.8 455.6C309.3 456.5 310.4 457.8 313.5 459.4C316.6 460.9 320.2 463.4 323.5 465.0C326.8 466.6 330.5 467.9 333.5 468.8C336.5 469.6 338.0 469.6 341.8 470.0C345.5 470.4 353.6 471.0 356.0 471.2M236.0 476.9C237.7 477.1 242.9 478.2 246.0 478.1C249.1 478.0 251.8 477.3 254.8 476.2C257.7 475.2 260.4 473.0 263.5 471.9C266.6 470.7 268.9 469.9 273.5 469.4C278.1 468.9 285.2 468.9 291.0 469.0C296.8 469.1 303.5 469.4 308.5 470.0C313.5 470.6 317.2 472.1 321.0 472.5C324.8 472.9 327.5 473.0 331.0 472.5C334.5 472.0 337.6 470.4 341.8 469.4C345.9 468.3 353.6 466.8 356.0 466.2M236.0 480.6C238.1 480.9 243.3 481.9 248.5 482.5C253.7 483.1 262.0 484.4 267.2 484.4C272.5 484.4 275.7 483.0 279.8 482.5C283.8 482.0 286.2 481.4 291.4 481.5C296.6 481.6 303.6 482.8 311.0 483.1C318.4 483.5 328.5 483.7 336.0 483.8C343.5 483.8 352.7 483.5 356.0 483.5M236.0 491.2C238.1 491.2 244.8 491.7 248.5 491.2C252.2 490.8 255.2 489.7 258.5 488.8C261.8 487.8 265.6 486.1 268.5 485.6C271.4 485.1 273.1 485.4 276.0 485.6C278.9 485.8 282.2 486.6 286.0 486.9C289.8 487.1 294.3 486.9 298.5 487.2C302.7 487.6 307.2 488.0 311.0 488.8C314.8 489.5 317.7 490.6 321.0 491.9C324.3 493.1 327.9 494.7 331.0 496.2C334.1 497.8 338.0 500.3 339.8 501.2C341.5 502.2 340.3 502.1 341.8 501.9C343.2 501.7 346.1 500.8 348.5 500.0C350.9 499.2 354.8 497.4 356.0 496.9M236.0 493.1C238.1 493.2 244.8 493.8 248.5 493.8C252.2 493.8 254.3 493.4 258.5 493.1C262.7 492.8 268.0 492.2 273.5 491.9C279.0 491.6 285.1 491.2 291.4 491.2C297.6 491.2 306.1 491.6 311.0 491.9C315.9 492.2 319.3 492.9 321.0 493.1M236.0 495.6C238.1 495.7 245.2 496.2 248.5 496.2C251.8 496.2 253.9 495.1 256.0 495.6C258.1 496.1 258.9 497.0 261.0 499.4C263.1 501.8 266.0 506.1 268.5 510.0C271.0 513.9 273.5 518.3 276.0 522.5C278.5 526.7 280.9 531.0 283.5 535.0C286.1 539.0 290.1 544.4 291.4 546.2M236.0 508.1C237.7 508.2 243.3 508.1 246.0 508.8C248.7 509.4 249.8 510.2 252.2 511.9C254.8 513.5 257.9 516.1 261.0 518.8C264.1 521.4 267.7 524.6 271.0 527.5C274.3 530.4 277.6 533.1 281.0 536.2C284.4 539.4 289.6 544.6 291.4 546.2M236.0 511.2C237.7 511.6 243.3 512.5 246.0 513.1C248.7 513.8 249.8 513.9 252.2 515.0C254.8 516.1 259.5 519.2 261.0 520.0M291.4 546.2C291.9 545.2 293.1 542.7 294.8 540.0C296.4 537.3 298.7 533.8 301.0 530.0C303.3 526.2 306.0 521.7 308.5 517.5C311.0 513.3 313.5 508.8 316.0 505.0C318.5 501.2 321.0 497.9 323.5 495.0C326.0 492.1 328.9 489.2 331.0 487.5C333.1 485.8 335.2 485.4 336.0 485.0M291.4 546.2C292.2 545.2 294.2 542.5 296.6 540.0C299.1 537.5 302.6 534.4 306.0 531.2C309.4 528.1 313.3 524.6 317.2 521.2C321.2 517.9 325.7 514.5 329.8 511.2C333.8 508.0 339.8 503.4 341.8 501.9M291.4 546.2C292.5 545.2 295.2 542.5 297.9 540.0C300.5 537.5 303.8 534.4 307.2 531.2C310.7 528.1 314.5 524.6 318.5 521.2C322.5 517.9 327.1 514.4 331.0 511.2C334.9 508.1 340.0 504.0 341.8 502.5M306.0 450.0C307.2 451.0 310.6 454.0 313.5 456.2C316.4 458.5 320.2 461.7 323.5 463.8C326.8 465.8 330.5 467.7 333.5 468.8C336.5 469.8 340.4 469.8 341.8 470.0M321.0 450.0C322.2 451.2 326.0 455.2 328.5 457.5C331.0 459.8 333.8 462.1 336.0 463.8C338.2 465.4 338.4 467.3 341.8 467.5C345.1 467.7 353.6 465.4 356.0 465.0M323.5 453.8C325.6 453.3 331.8 451.9 336.0 451.2C340.2 450.6 346.4 450.2 348.5 450.0"/>
<path class="b" clip-path="url(#k5)" d="M350.0 313.1C352.5 313.1 359.8 313.2 365.0 313.1C370.2 313.1 376.3 312.5 381.1 312.8C385.9 313.0 389.6 314.0 393.8 314.4C397.9 314.8 400.6 315.1 406.2 315.0C411.9 314.9 421.2 314.3 427.5 314.0C433.8 313.7 439.0 313.5 443.8 313.1C448.5 312.7 451.9 311.9 456.2 311.5C460.6 311.1 467.7 310.8 470.0 310.6M350.0 323.8C351.2 323.3 354.6 322.0 357.5 321.2C360.4 320.5 363.6 319.5 367.5 319.0C371.4 318.5 375.7 318.6 381.1 318.5C386.5 318.4 394.8 317.9 400.0 318.1C405.2 318.3 407.9 319.3 412.5 319.8C417.1 320.2 421.2 320.6 427.5 320.6C433.8 320.7 444.2 319.8 450.0 320.0C455.8 320.2 459.2 321.2 462.5 321.9C465.8 322.5 468.8 323.4 470.0 323.8M350.0 330.0C352.1 330.2 358.8 330.7 362.5 331.2C366.2 331.8 369.4 332.7 372.5 333.1C375.6 333.6 378.0 334.0 381.1 334.0C384.2 334.0 387.7 333.9 391.2 333.1C394.8 332.4 399.0 330.3 402.5 329.4C406.0 328.4 408.3 327.8 412.5 327.5C416.7 327.2 422.3 327.6 427.5 327.5C432.7 327.4 439.0 327.4 443.8 326.9C448.5 326.4 453.1 325.1 456.2 324.4C459.4 323.7 460.2 323.1 462.5 322.8C464.8 322.4 468.8 322.3 470.0 322.2M350.0 334.4C352.1 334.9 358.8 336.6 362.5 337.2C366.2 337.9 369.4 338.0 372.5 338.1C375.6 338.3 377.6 338.3 381.1 338.1C384.7 337.9 389.6 337.7 393.8 336.9C397.9 336.0 402.1 334.3 406.2 333.1C410.4 332.0 415.2 330.7 418.8 330.0C422.3 329.3 423.3 329.2 427.5 329.0C431.7 328.8 439.0 328.8 443.8 329.0C448.5 329.2 451.9 329.6 456.2 330.0C460.6 330.4 467.7 331.0 470.0 331.2M350.0 344.4C355.2 344.3 371.8 343.9 381.1 343.8C390.5 343.6 398.5 343.7 406.2 343.8C414.0 343.8 420.2 343.8 427.5 344.0C434.8 344.2 442.9 344.5 450.0 344.8C457.1 345.0 466.7 345.2 470.0 345.2M350.0 351.2C352.1 351.1 357.3 350.8 362.5 350.6C367.7 350.5 375.9 350.1 381.1 350.2C386.3 350.4 389.6 350.7 393.8 351.2C397.9 351.8 402.1 353.1 406.2 353.8C410.4 354.4 415.2 354.8 418.8 355.0C422.3 355.2 422.3 355.0 427.5 355.0C432.7 355.0 442.9 355.0 450.0 355.0C457.1 355.0 466.7 355.2 470.0 355.2M350.0 355.0C352.1 355.5 358.3 357.4 362.5 358.1C366.7 358.9 370.8 359.3 375.0 359.4C379.2 359.4 382.3 358.7 387.5 358.5C392.7 358.3 399.6 358.2 406.2 358.1C412.9 358.1 420.2 358.1 427.5 358.1C434.8 358.2 442.9 358.5 450.0 358.5C457.1 358.5 466.7 358.2 470.0 358.1M350.0 363.8C351.7 363.3 355.8 361.8 360.0 361.2C364.2 360.7 370.4 360.8 375.0 360.6C379.6 360.5 382.3 360.2 387.5 360.2C392.7 360.2 399.6 360.4 406.2 360.6C412.9 360.9 421.2 361.4 427.5 361.9C433.8 362.4 439.0 363.6 443.8 363.8C448.5 363.9 451.9 362.9 456.2 362.5C460.6 362.1 467.7 361.5 470.0 361.2M350.0 366.2C352.1 366.0 358.3 365.3 362.5 365.0C366.7 364.7 371.9 364.4 375.0 364.4C378.1 364.4 378.0 364.6 381.1 365.0C384.2 365.4 389.6 366.8 393.8 366.9C397.9 367.0 400.6 366.0 406.2 365.6C411.9 365.2 420.2 364.7 427.5 364.4C434.8 364.1 442.9 364.0 450.0 363.8C457.1 363.5 466.7 363.2 470.0 363.1M350.0 375.0C351.2 375.3 354.8 376.0 357.5 376.9C360.2 377.7 364.8 379.5 366.2 380.0M436.2 380.0C437.5 379.0 441.5 375.4 443.8 373.8C446.0 372.1 447.9 370.6 450.0 370.0C452.1 369.4 452.9 369.7 456.2 370.0C459.6 370.3 467.7 371.6 470.0 371.9"/>
<path class="b" clip-path="url(#k6)" d="M350.0 375.0C351.7 375.4 356.2 376.1 360.0 377.5C363.8 378.9 369.0 382.0 372.5 383.1C376.0 384.2 378.0 383.5 381.1 384.0C384.2 384.5 387.7 385.3 391.2 386.2C394.8 387.2 398.5 389.3 402.5 389.8C406.5 390.2 410.8 389.2 415.0 389.0C419.2 388.8 424.2 389.6 427.5 388.5C430.8 387.4 432.5 384.8 435.0 382.5C437.5 380.2 440.2 376.9 442.5 375.0C444.8 373.1 446.5 371.7 448.8 371.0C451.0 370.3 452.7 370.5 456.2 370.6C459.8 370.8 467.7 371.7 470.0 371.9M350.0 383.1C352.1 383.3 358.8 383.2 362.5 384.4C366.2 385.5 369.4 388.7 372.5 390.0C375.6 391.3 377.6 391.7 381.1 392.2C384.7 392.8 388.5 392.8 393.8 393.1C399.0 393.5 406.9 394.1 412.5 394.4C418.1 394.7 424.2 394.3 427.5 395.0C430.8 395.7 430.4 396.9 432.5 398.8C434.6 400.6 437.1 404.2 440.0 406.2C442.9 408.3 446.7 410.2 450.0 411.2C453.3 412.3 456.7 412.4 460.0 412.5C463.3 412.6 468.3 412.0 470.0 411.9M350.0 406.2C351.7 405.2 356.7 401.9 360.0 400.0C363.3 398.1 366.5 396.1 370.0 395.0C373.5 393.9 377.6 393.1 381.1 393.1C384.7 393.1 387.7 394.0 391.2 395.0C394.8 396.0 398.5 398.2 402.5 399.4C406.5 400.6 410.8 401.7 415.0 402.2C419.2 402.8 424.2 402.9 427.5 402.5C430.8 402.1 432.1 401.5 435.0 400.0C437.9 398.5 441.5 395.7 445.0 393.8C448.5 391.8 452.1 389.4 456.2 388.1C460.4 386.9 467.7 386.6 470.0 386.2M350.0 407.5C351.7 408.0 356.9 409.8 360.0 410.6C363.1 411.5 366.2 412.8 368.8 412.5C371.2 412.2 372.9 409.8 375.0 408.8C377.1 407.7 378.4 406.7 381.1 406.2C383.8 405.8 387.7 405.9 391.2 406.0C394.8 406.1 399.0 406.0 402.5 406.9C406.0 407.8 409.2 410.1 412.5 411.2C415.8 412.4 419.4 413.2 422.5 413.8C425.6 414.3 427.7 413.4 431.2 414.4C434.8 415.3 439.6 417.6 443.8 419.4C447.9 421.1 452.3 423.6 456.2 425.0C460.2 426.4 465.2 427.2 467.5 427.5C469.8 427.8 469.6 427.0 470.0 426.9M350.0 420.0C351.2 420.1 354.8 421.1 357.5 420.6C360.2 420.1 363.3 417.4 366.2 416.9C369.2 416.3 370.4 417.2 375.0 417.2C379.6 417.2 387.5 416.8 393.8 416.9C400.0 416.9 406.9 417.4 412.5 417.5C418.1 417.6 423.3 417.5 427.5 417.8C431.7 418.0 433.8 418.0 437.5 418.8C441.2 419.5 445.8 421.6 450.0 422.5C454.2 423.4 459.2 424.2 462.5 424.4C465.8 424.6 468.8 423.9 470.0 423.8M350.0 448.5C351.7 448.4 356.7 447.8 360.0 448.1C363.3 448.5 366.5 450.0 370.0 450.6C373.5 451.2 377.3 452.0 381.2 451.9C385.2 451.8 390.0 450.3 393.8 450.0C397.5 449.7 400.6 449.6 403.8 450.0C406.9 450.4 409.4 451.6 412.5 452.5C415.6 453.4 418.3 455.0 422.5 455.6C426.7 456.2 431.9 456.0 437.5 456.2C443.1 456.5 450.8 456.6 456.2 456.9C461.7 457.2 467.7 457.9 470.0 458.1"/>
<path class="b" clip-path="url(#k7)" d="M350.0 468.8C352.1 468.0 358.3 465.8 362.5 464.4C366.7 462.9 371.2 460.7 375.0 460.0C378.8 459.3 381.2 459.7 385.0 460.2C388.8 460.8 393.3 462.6 397.5 463.1C401.7 463.6 405.8 463.6 410.0 463.1C414.2 462.6 417.9 460.6 422.5 460.0C427.1 459.4 431.9 459.6 437.5 459.8C443.1 459.9 450.8 460.6 456.2 460.6C461.7 460.7 467.7 460.1 470.0 460.0M362.5 450.0C365.6 450.3 375.0 451.8 381.2 451.9C387.5 452.0 395.2 450.6 400.0 450.6C404.8 450.6 406.2 451.0 410.0 451.9C413.8 452.7 417.9 454.9 422.5 455.6C427.1 456.4 431.9 456.2 437.5 456.5C443.1 456.8 450.8 457.0 456.2 457.2C461.7 457.5 467.7 458.0 470.0 458.1M350.0 470.6C352.1 471.0 357.3 472.5 362.5 473.1C367.7 473.8 376.0 474.4 381.2 474.4C386.5 474.4 389.6 473.9 393.8 473.1C397.9 472.4 402.1 470.8 406.2 470.0C410.4 469.2 413.5 468.6 418.8 468.1C424.0 467.6 431.2 467.2 437.5 466.9C443.8 466.6 450.8 466.2 456.2 466.2C461.7 466.2 467.7 466.8 470.0 466.9M350.0 483.8C353.1 483.5 362.5 482.5 368.8 482.2C375.0 482.0 381.2 482.4 387.5 482.5C393.8 482.6 399.6 483.1 406.2 483.1C412.9 483.2 421.2 482.9 427.5 482.8C433.8 482.6 439.0 482.5 443.8 482.2C448.5 482.0 451.9 481.5 456.2 481.2C460.6 481.0 467.7 481.0 470.0 481.0M350.0 500.6C352.1 499.6 358.3 495.8 362.5 494.4C366.7 492.9 370.2 492.4 375.0 491.9C379.8 491.4 386.7 491.9 391.2 491.2C395.8 490.6 398.5 489.3 402.5 488.1C406.5 487.0 410.8 485.2 415.0 484.4C419.2 483.5 423.8 483.1 427.5 483.1C431.2 483.1 434.2 483.6 437.5 484.4C440.8 485.1 444.4 486.6 447.5 487.5C450.6 488.4 452.5 489.5 456.2 490.0C460.0 490.5 467.7 490.5 470.0 490.6M350.0 503.1C352.1 502.4 358.3 500.0 362.5 498.8C366.7 497.5 370.2 496.5 375.0 495.6C379.8 494.8 386.0 494.6 391.2 493.8C396.5 492.9 401.7 491.6 406.2 490.6C410.8 489.7 415.2 488.6 418.8 488.1C422.3 487.6 424.0 487.3 427.5 487.5C431.0 487.7 435.8 488.5 440.0 489.4C444.2 490.2 448.3 491.7 452.5 492.5C456.7 493.3 462.1 494.1 465.0 494.4C467.9 494.6 469.2 494.1 470.0 494.0"/>
<path class="b" clip-path="url(#k8)" d="M460.0 311.9C461.1 311.7 462.7 310.9 466.9 311.0C471.0 311.1 479.9 312.0 485.0 312.2C490.1 312.5 492.8 312.6 497.5 312.8C502.2 312.9 510.6 313.1 513.2 313.1M460.0 321.2C461.7 321.5 466.7 321.9 470.0 322.5C473.3 323.1 476.5 324.0 480.0 325.0C483.5 326.0 487.7 327.6 491.2 328.8C494.8 329.9 498.1 331.0 501.2 331.9C504.4 332.7 508.0 333.4 510.0 333.8C512.0 334.1 512.7 334.0 513.2 334.0M460.0 324.4C462.1 324.2 468.3 323.1 472.5 323.1C476.7 323.2 480.8 324.3 485.0 324.8C489.2 325.2 492.8 325.5 497.5 325.8C502.2 326.0 510.6 326.2 513.2 326.2M460.0 330.0C464.2 330.1 478.8 330.8 485.0 330.6C491.2 330.4 492.8 329.3 497.5 328.8C502.2 328.2 510.6 327.7 513.2 327.5M460.0 331.2C465.2 331.2 484.0 330.9 491.2 331.2C498.5 331.6 500.1 332.7 503.8 333.1C507.4 333.6 511.7 333.9 513.2 334.0M460.0 345.0C464.2 345.0 476.1 345.2 485.0 345.0C493.9 344.8 508.5 344.2 513.2 344.0M460.0 355.0C462.1 355.1 468.3 355.9 472.5 355.6C476.7 355.3 480.8 353.9 485.0 353.1C489.2 352.4 492.8 351.7 497.5 351.2C502.2 350.8 510.6 350.4 513.2 350.2M460.0 358.1C462.1 358.0 468.3 358.0 472.5 357.5C476.7 357.0 479.8 355.8 485.0 355.0C490.2 354.2 499.0 353.2 503.8 352.8C508.5 352.3 511.7 352.5 513.2 352.5M460.0 356.5C463.1 356.5 472.5 356.6 478.8 356.2C485.0 355.9 491.8 354.6 497.5 354.4C503.2 354.2 510.6 354.9 513.2 355.0M460.0 361.2C462.1 361.1 468.3 360.2 472.5 360.6C476.7 361.0 480.8 362.8 485.0 363.8C489.2 364.7 492.8 365.7 497.5 366.2C502.2 366.8 510.6 366.8 513.2 366.9M460.0 363.8C462.1 363.6 468.3 363.0 472.5 363.1C476.7 363.3 480.8 364.4 485.0 364.8C489.2 365.1 492.8 365.0 497.5 365.0C502.2 365.0 510.6 365.0 513.2 365.0M460.0 371.2C462.1 371.2 468.8 370.8 472.5 371.0C476.2 371.2 479.4 371.6 482.5 372.5C485.6 373.4 488.8 375.0 491.2 376.2C493.8 377.5 496.5 379.4 497.5 380.0M488.8 380.0C490.2 379.4 494.8 377.2 497.5 376.2C500.2 375.3 502.4 374.8 505.0 374.4C507.6 373.9 511.9 373.6 513.2 373.5"/>
<path class="b" clip-path="url(#k9)" d="M460.0 371.2C462.1 371.3 468.8 371.2 472.5 371.5C476.2 371.8 479.4 372.3 482.5 373.1C485.6 373.9 488.1 375.0 491.2 376.2C494.4 377.5 498.1 379.6 501.2 380.6C504.4 381.7 508.0 382.1 510.0 382.5C512.0 382.9 512.7 382.7 513.2 382.8M460.0 388.8C462.1 388.4 468.8 387.8 472.5 386.9C476.2 385.9 479.4 384.5 482.5 383.1C485.6 381.8 488.1 380.0 491.2 378.8C494.4 377.5 498.1 376.4 501.2 375.6C504.4 374.9 508.0 374.6 510.0 374.4C512.0 374.1 512.7 374.2 513.2 374.1M460.0 412.5C461.7 412.5 466.7 412.8 470.0 412.5C473.3 412.2 476.5 411.4 480.0 410.6C483.5 409.9 487.3 408.8 491.2 408.1C495.2 407.5 500.1 407.1 503.8 406.9C507.4 406.6 511.7 406.7 513.2 406.6M460.0 423.8C462.1 423.9 469.2 424.4 472.5 424.4C475.8 424.4 477.3 424.5 480.0 423.8C482.7 423.0 485.8 421.5 488.8 420.0C491.7 418.5 494.6 416.4 497.5 415.0C500.4 413.6 503.6 412.6 506.2 411.9C508.9 411.1 512.1 410.8 513.2 410.6M460.0 426.2C461.2 426.5 464.4 427.5 467.5 427.5C470.6 427.5 475.2 427.0 478.8 426.2C482.3 425.5 485.6 424.2 488.8 423.1C491.9 422.1 494.6 420.8 497.5 420.0C500.4 419.2 503.6 418.6 506.2 418.1C508.9 417.7 512.1 417.4 513.2 417.2M460.0 456.2C461.7 456.4 466.7 457.1 470.0 456.9C473.3 456.7 476.5 455.8 480.0 455.0C483.5 454.2 487.3 452.8 491.2 451.9C495.2 450.9 500.1 449.9 503.8 449.4C507.4 448.9 511.7 448.9 513.2 448.8"/>
<path class="b" clip-path="url(#k10)" d="M460.0 458.8C461.7 458.8 466.7 459.2 470.0 458.8C473.3 458.3 476.5 457.2 480.0 456.2C483.5 455.3 487.3 454.1 491.2 453.1C495.2 452.2 500.1 451.1 503.8 450.6C507.4 450.1 511.7 450.1 513.2 450.0M460.0 460.0C462.1 460.1 468.8 460.1 472.5 460.6C476.2 461.1 479.2 462.2 482.5 463.1C485.8 464.1 489.2 465.3 492.5 466.2C495.8 467.2 499.0 468.2 502.5 468.8C506.0 469.3 511.5 469.3 513.2 469.4M460.0 466.9C463.1 466.9 473.3 467.0 478.8 467.2C484.2 467.5 488.3 467.8 492.5 468.1C496.7 468.5 500.3 469.1 503.8 469.4C507.2 469.7 511.7 469.9 513.2 470.0M460.0 481.2C462.1 481.2 468.3 480.9 472.5 481.2C476.7 481.6 480.8 482.7 485.0 483.1C489.2 483.6 492.8 483.9 497.5 484.0C502.2 484.1 510.6 483.8 513.2 483.8M460.0 490.6C462.1 490.5 468.8 489.8 472.5 490.0C476.2 490.2 479.2 490.8 482.5 491.9C485.8 492.9 489.2 494.9 492.5 496.2C495.8 497.6 499.0 499.1 502.5 500.0C506.0 500.9 511.5 501.6 513.2 501.9M460.0 493.1C462.1 493.2 468.8 493.2 472.5 493.8C476.2 494.3 479.2 495.3 482.5 496.2C485.8 497.2 489.2 498.5 492.5 499.4C495.8 500.2 499.0 501.0 502.5 501.5C506.0 502.0 511.5 502.3 513.2 502.5"/>
<path class="b" clip-path="url(#k11)" d="M196.0 309.0C197.6 309.1 202.5 309.8 205.6 309.4C208.8 308.9 211.6 307.5 214.8 306.2C217.9 305.0 221.4 303.3 224.8 301.9C228.1 300.5 231.3 298.6 234.8 297.8C238.2 296.9 241.3 296.5 245.2 296.5C249.2 296.5 253.4 297.2 258.5 297.8C263.6 298.3 270.5 299.4 276.0 300.0C281.5 300.6 288.8 301.0 291.4 301.2M205.6 309.4C207.1 309.8 211.6 310.8 214.8 311.9C217.9 312.9 221.6 314.3 224.8 315.6C227.9 317.0 231.0 318.8 233.5 320.0C236.0 321.2 237.7 322.5 239.8 323.1C241.8 323.8 242.9 323.8 246.0 323.8C249.1 323.8 250.9 323.3 258.5 323.1C266.1 323.0 285.9 322.8 291.4 322.8M196.0 322.8C197.6 322.4 202.5 320.9 205.6 320.6C208.8 320.4 211.6 320.8 214.8 321.2C217.9 321.7 221.6 322.5 224.8 323.1C227.9 323.8 230.1 324.4 233.5 325.0C236.9 325.6 241.1 326.5 245.2 326.9C249.4 327.3 253.2 327.4 258.5 327.5C263.8 327.6 271.8 327.3 277.2 327.2C282.7 327.2 289.0 327.2 291.4 327.2M245.2 327.5C246.8 327.9 251.7 329.0 254.8 330.0C257.8 331.0 260.8 332.4 263.5 333.8C266.2 335.1 268.1 336.7 271.0 338.1C273.9 339.6 277.6 341.4 281.0 342.5C284.4 343.6 289.6 344.6 291.4 345.0M196.0 338.1C198.1 338.0 204.8 337.9 208.5 337.5C212.2 337.1 215.2 336.6 218.5 335.6C221.8 334.7 225.2 333.1 228.5 331.9C231.8 330.6 235.7 329.0 238.5 328.1C241.3 327.3 244.1 327.1 245.2 326.9M196.0 341.2C198.1 341.1 204.3 340.9 208.5 340.6C212.7 340.3 217.2 340.0 221.0 339.4C224.8 338.8 228.1 337.7 231.0 336.9C233.9 336.0 236.1 334.9 238.5 334.4C240.9 333.9 243.0 333.7 245.2 333.8C247.5 333.8 249.6 334.3 252.2 334.8C254.9 335.2 257.9 336.1 261.0 336.2C264.1 336.4 267.7 336.1 271.0 335.6C274.3 335.1 277.6 333.9 281.0 333.1C284.4 332.4 289.6 331.6 291.4 331.2M245.2 334.0C246.8 334.4 251.7 335.4 254.8 336.2C257.8 337.1 260.4 338.3 263.5 339.4C266.6 340.4 270.2 341.7 273.5 342.5C276.8 343.3 280.5 344.0 283.5 344.4C286.5 344.8 290.1 344.9 291.4 345.0M196.0 343.8C198.1 343.8 204.3 343.9 208.5 343.8C212.7 343.6 216.8 343.8 221.0 343.1C225.2 342.5 229.5 340.7 233.5 340.0C237.5 339.3 241.1 339.1 245.2 338.8C249.4 338.4 254.2 338.5 258.5 338.1C262.8 337.7 266.8 337.2 271.0 336.2C275.2 335.3 280.1 333.4 283.5 332.5C286.9 331.6 290.1 330.9 291.4 330.6M196.0 345.0C198.1 345.1 204.3 345.6 208.5 345.6C212.7 345.6 217.7 345.5 221.0 345.0C224.3 344.5 225.8 343.6 228.5 342.5C231.2 341.4 234.5 339.5 237.2 338.1C240.0 336.8 243.9 335.0 245.2 334.4M224.8 346.0C226.2 345.7 231.0 344.5 233.5 344.0C236.0 343.5 237.8 342.9 239.8 342.8C241.7 342.6 243.2 342.9 245.2 343.1C247.3 343.4 249.6 344.4 252.2 344.4C254.9 344.3 257.9 342.6 261.0 342.8C264.1 342.9 267.7 344.5 271.0 345.0C274.3 345.5 277.6 345.6 281.0 345.6C284.4 345.6 289.6 345.1 291.4 345.0M196.0 351.2C197.7 351.5 202.9 352.5 206.0 352.5C209.1 352.5 211.8 352.1 214.8 351.2C217.7 350.4 220.4 348.8 223.5 347.5C226.6 346.2 230.8 344.7 233.5 343.8C236.2 342.8 238.7 342.2 239.8 341.9M196.0 348.8C198.1 349.0 204.3 350.0 208.5 350.0C212.7 350.0 216.8 349.1 221.0 348.8C225.2 348.4 229.5 347.9 233.5 348.1C237.5 348.3 242.1 349.9 245.2 350.0C248.4 350.1 249.6 349.4 252.2 348.8C254.9 348.1 257.9 346.6 261.0 346.0C264.1 345.4 269.3 345.2 271.0 345.0M196.0 354.4C198.1 354.5 204.3 355.1 208.5 355.0C212.7 354.9 216.8 354.2 221.0 353.8C225.2 353.3 229.5 352.6 233.5 352.5C237.5 352.4 241.1 353.1 245.2 353.1C249.4 353.1 254.2 353.0 258.5 352.5C262.8 352.0 267.2 350.8 271.0 350.0C274.8 349.2 277.6 348.1 281.0 347.5C284.4 346.9 289.6 346.5 291.4 346.2M196.0 356.9C199.1 356.9 208.5 357.1 214.8 356.9C221.0 356.7 228.4 355.7 233.5 355.6C238.6 355.5 241.1 356.2 245.2 356.2C249.4 356.2 254.2 355.8 258.5 355.6C262.8 355.4 267.2 355.5 271.0 355.0C274.8 354.5 278.3 353.2 281.0 352.5C283.7 351.8 285.5 351.3 287.2 351.0C289.0 350.7 290.7 350.7 291.4 350.6M196.0 360.0C199.1 359.8 208.5 359.1 214.8 358.8C221.0 358.4 228.4 358.2 233.5 358.1C238.6 358.0 241.1 358.1 245.2 358.1C249.4 358.2 254.2 358.3 258.5 358.5C262.8 358.7 266.8 358.6 271.0 359.4C275.2 360.1 280.1 362.4 283.5 363.1C286.9 363.9 290.1 363.6 291.4 363.8M196.0 363.8C198.1 363.6 204.3 363.4 208.5 363.1C212.7 362.8 216.8 362.0 221.0 361.9C225.2 361.8 229.5 362.6 233.5 362.5C237.5 362.4 241.1 361.5 245.2 361.2C249.4 361.0 253.2 360.6 258.5 361.2C263.8 361.9 271.8 364.2 277.2 365.0C282.7 365.8 289.0 366.0 291.4 366.2M196.0 366.2C199.1 366.5 208.5 367.7 214.8 367.5C221.0 367.3 228.4 365.4 233.5 365.0C238.6 364.6 241.1 365.0 245.2 365.0C249.4 365.0 253.2 364.6 258.5 365.0C263.8 365.4 271.8 366.9 277.2 367.5C282.7 368.1 289.0 368.5 291.4 368.8M196.0 371.2C198.1 371.2 204.3 371.0 208.5 371.2C212.7 371.5 216.8 372.7 221.0 372.5C225.2 372.3 229.5 370.6 233.5 370.0C237.5 369.4 241.1 369.0 245.2 368.8C249.4 368.5 253.2 368.5 258.5 368.8C263.8 369.0 271.8 369.6 277.2 370.0C282.7 370.4 289.0 371.0 291.4 371.2M196.0 377.5C198.1 377.3 204.3 376.0 208.5 376.2C212.7 376.5 217.7 378.0 221.0 378.8C224.3 379.5 227.2 380.3 228.5 380.6M251.0 380.2C252.7 379.6 256.6 377.1 261.0 376.2C265.4 375.4 272.2 375.2 277.2 375.0C282.3 374.8 289.0 375.0 291.4 375.0"/>
<path class="b" clip-path="url(#k12)" d="M291.4 311.2C293.6 311.0 301.2 310.3 304.8 310.0C308.3 309.7 309.1 309.4 312.5 309.4C315.9 309.3 321.5 309.3 325.0 309.8C328.5 310.2 331.0 311.3 333.8 311.9C336.5 312.5 338.5 313.1 341.8 313.4C345.0 313.6 351.1 313.5 353.0 313.5M291.4 323.1C294.6 323.1 306.2 323.6 311.0 323.1C315.8 322.6 317.2 321.4 320.0 320.2C322.8 319.1 325.2 317.6 327.5 316.5C329.8 315.4 332.1 314.4 333.8 313.8C335.4 313.1 336.9 312.9 337.5 312.8M291.4 326.2C292.8 326.1 296.5 325.9 300.0 325.6C303.5 325.3 308.3 325.0 312.5 324.5C316.7 324.0 321.7 322.9 325.0 322.8C328.3 322.6 329.7 323.4 332.5 323.8C335.3 324.1 339.2 325.0 341.8 325.1C344.2 325.2 345.6 324.6 347.5 324.2C349.4 323.9 352.1 323.1 353.0 322.9M291.4 327.5C294.9 327.5 306.9 327.4 312.5 327.5C318.1 327.6 320.8 328.0 325.0 328.1C329.2 328.2 334.7 328.0 337.5 328.1C340.3 328.2 339.2 328.4 341.8 328.8C344.3 329.1 351.1 330.0 353.0 330.2M291.4 334.0C292.8 333.8 296.5 333.2 300.0 332.5C303.5 331.8 308.3 330.8 312.5 330.0C316.7 329.2 320.8 328.1 325.0 327.5C329.2 326.9 334.7 326.5 337.5 326.1C340.3 325.8 341.0 325.5 341.8 325.4M291.4 341.9C292.8 341.6 296.9 340.7 300.0 340.0C303.1 339.3 306.7 338.4 310.0 337.5C313.3 336.6 316.5 335.3 320.0 334.5C323.5 333.7 327.6 332.9 331.2 332.8C334.9 332.6 339.0 333.5 341.8 333.8C344.5 334.0 345.6 334.0 347.5 334.2C349.4 334.5 352.1 335.0 353.0 335.1M291.4 344.0C292.8 343.9 296.5 343.8 300.0 343.1C303.5 342.5 308.3 340.9 312.5 340.0C316.7 339.1 321.7 338.2 325.0 337.5C328.3 336.8 330.0 336.6 332.5 336.0C335.0 335.4 338.8 334.3 340.0 334.0M291.4 345.0C292.8 345.1 296.5 345.8 300.0 345.6C303.5 345.4 309.2 344.4 312.5 343.8C315.8 343.1 317.5 341.7 320.0 341.5C322.5 341.3 325.0 342.1 327.5 342.5C330.0 342.9 332.6 343.7 335.0 344.0C337.4 344.3 338.8 344.3 341.8 344.4C344.8 344.4 351.1 344.4 353.0 344.4M291.4 347.5C292.8 347.3 294.4 346.8 300.0 346.5C305.6 346.2 318.0 346.0 325.0 345.8C332.0 345.5 339.0 345.1 341.8 345.0M291.4 352.5C292.8 352.5 296.5 352.6 300.0 352.5C303.5 352.4 308.3 352.1 312.5 351.9C316.7 351.7 320.1 351.4 325.0 351.2C329.9 351.1 337.1 351.3 341.8 351.2C346.4 351.2 351.1 351.0 353.0 351.0M291.4 355.0C292.8 355.0 297.3 354.8 300.0 355.0C302.7 355.2 305.0 356.4 307.5 356.2C310.0 356.1 312.1 354.9 315.0 354.4C317.9 353.9 321.2 353.2 325.0 353.1C328.8 353.0 333.3 353.4 337.5 353.8C341.7 354.1 347.4 354.9 350.0 355.2C352.6 355.6 352.5 355.8 353.0 355.9M291.4 365.0C292.8 364.4 297.5 362.6 300.0 361.5C302.5 360.4 304.2 359.5 306.2 358.5C308.3 357.5 310.6 356.5 312.5 355.8C314.4 355.0 316.7 354.5 317.5 354.2M291.4 362.2C292.8 362.3 294.4 362.2 300.0 362.5C305.6 362.8 318.0 363.5 325.0 363.8C332.0 364.0 337.1 363.8 341.8 363.8C346.4 363.7 351.1 363.5 353.0 363.5M291.4 365.0C292.8 365.0 294.4 364.9 300.0 365.0C305.6 365.1 318.0 365.5 325.0 365.6C332.0 365.7 337.1 365.6 341.8 365.6C346.4 365.7 351.1 365.9 353.0 366.0M291.4 368.1C292.8 368.0 294.4 367.5 300.0 367.5C305.6 367.5 318.0 368.2 325.0 368.1C332.0 368.1 337.1 367.6 341.8 367.2C346.4 366.9 351.1 366.2 353.0 366.0M303.8 380.2C305.2 379.2 309.0 375.2 312.5 373.8C316.0 372.2 320.8 371.5 325.0 371.2C329.2 371.0 333.3 371.8 337.5 372.5C341.7 373.2 347.4 375.0 350.0 375.6C352.6 376.3 352.5 376.4 353.0 376.5M325.0 380.2C326.0 379.6 329.2 377.3 331.2 376.2C333.3 375.2 335.6 374.5 337.5 374.0C339.4 373.5 341.7 373.3 342.5 373.1"/>
<path class="b" clip-path="url(#k13)" d="M120.0 302.5C122.5 302.6 130.2 302.7 134.8 303.1C139.3 303.5 143.1 304.4 147.2 305.0C151.4 305.6 154.4 306.0 159.6 306.5C164.8 307.0 172.4 307.6 178.5 308.1C184.6 308.6 191.5 309.2 196.0 309.4C200.5 309.6 202.3 310.0 205.6 309.4C209.0 308.8 214.3 306.2 216.0 305.6M120.0 323.1C121.4 322.2 125.4 319.4 128.5 317.5C131.6 315.6 135.2 313.5 138.5 311.9C141.8 310.2 145.6 308.7 148.5 307.8C151.4 306.8 154.1 306.5 156.0 306.2C157.9 306.0 159.0 306.5 159.6 306.5M120.0 325.6C121.4 325.8 125.0 325.8 128.5 326.9C132.0 327.9 137.2 330.4 141.0 331.9C144.8 333.3 147.9 334.7 151.0 335.6C154.1 336.5 156.7 337.4 159.6 337.2C162.5 337.1 165.4 336.2 168.5 335.0C171.6 333.8 175.2 331.7 178.5 330.0C181.8 328.3 185.4 326.0 188.5 324.8C191.6 323.5 194.4 322.8 197.2 322.2C200.1 321.8 202.5 321.8 205.6 321.8C208.8 321.8 214.3 322.2 216.0 322.2M120.0 328.1C121.4 328.8 125.6 330.6 128.5 331.9C131.4 333.1 134.1 334.6 137.2 335.6C140.4 336.7 143.5 337.4 147.2 338.1C151.0 338.9 155.5 339.7 159.6 340.2C163.8 340.8 167.9 341.3 172.2 341.2C176.6 341.2 181.8 340.5 186.0 340.0C190.2 339.5 194.0 338.9 197.2 338.5C200.5 338.1 202.5 337.9 205.6 337.5C208.8 337.1 214.3 336.5 216.0 336.2M120.0 340.0C122.5 339.8 130.2 339.0 134.8 339.0C139.3 339.0 143.1 339.6 147.2 340.0C151.4 340.4 155.5 341.1 159.6 341.5C163.8 341.9 167.9 342.5 172.2 342.5C176.6 342.5 181.8 341.9 186.0 341.5C190.2 341.1 194.0 340.5 197.2 340.0C200.5 339.5 202.5 338.7 205.6 338.2C208.8 337.8 214.3 337.4 216.0 337.2M120.0 341.5C121.8 341.5 127.2 341.7 131.0 341.8C134.8 341.8 139.7 341.9 143.0 342.0C146.3 342.1 148.2 342.3 151.0 342.5C153.8 342.7 156.1 342.9 159.6 343.1C163.2 343.4 167.9 343.9 172.2 344.0C176.6 344.1 181.8 344.1 186.0 344.0C190.2 343.9 194.0 343.5 197.2 343.2C200.5 343.0 202.5 342.5 205.6 342.4C208.8 342.2 214.3 342.3 216.0 342.2M120.0 345.6C121.4 345.8 124.7 346.5 128.5 346.9C132.3 347.2 139.0 347.9 143.0 347.9C147.0 347.9 149.5 347.4 152.2 346.9C155.0 346.4 156.3 345.3 159.6 345.0C163.0 344.7 167.9 345.0 172.2 345.0C176.6 345.0 181.8 345.2 186.0 345.0C190.2 344.8 194.0 344.1 197.2 343.8C200.5 343.4 202.5 342.8 205.6 342.6C208.8 342.5 214.3 342.9 216.0 343.0M120.0 346.9C121.4 347.2 125.0 348.3 128.5 348.8C132.0 349.2 136.8 349.3 141.0 349.4C145.2 349.4 150.4 349.1 153.5 349.0C156.6 348.9 156.9 348.9 159.6 349.0C162.3 349.1 166.6 349.3 169.8 349.8C172.9 350.2 175.8 351.1 178.5 351.9C181.2 352.6 183.1 353.4 186.0 354.4C188.9 355.3 192.7 356.6 196.0 357.5C199.3 358.4 202.3 359.1 205.6 359.5C209.0 359.9 214.3 359.9 216.0 360.0M120.0 349.8C122.5 349.8 130.2 350.2 134.8 350.2C139.3 350.2 143.1 350.0 147.2 349.8C151.4 349.5 155.5 349.0 159.6 348.8C163.8 348.5 168.3 348.5 172.2 348.5C176.2 348.5 180.0 348.2 183.5 348.5C187.0 348.8 190.2 349.7 193.5 350.2C196.8 350.8 200.6 351.7 203.5 352.0C206.4 352.3 208.9 352.2 211.0 352.0C213.1 351.8 215.2 350.9 216.0 350.6M120.0 351.9C121.4 351.9 125.0 352.2 128.5 352.2C132.0 352.2 137.0 351.9 141.0 351.9C145.0 351.8 149.5 351.9 152.6 351.9C155.7 351.9 156.4 351.7 159.6 351.9C162.9 352.1 168.7 352.4 172.2 353.1C175.8 353.8 177.9 355.0 181.0 356.0C184.1 357.0 186.9 358.2 191.0 359.0C195.1 359.8 201.5 360.2 205.6 360.5C209.8 360.8 214.3 360.5 216.0 360.5M120.0 353.8C121.4 353.6 125.7 353.4 128.5 353.1C131.3 352.9 134.1 352.5 136.9 352.2C139.6 352.0 143.8 351.9 145.1 351.9M120.0 355.0C121.2 355.0 125.0 355.0 127.2 355.2C129.5 355.5 131.8 355.7 133.6 356.2C135.5 356.8 136.9 357.8 138.5 358.5C140.1 359.2 140.6 359.9 143.0 360.2C145.4 360.6 149.9 360.7 152.6 360.8C155.4 360.8 156.4 360.8 159.6 360.8C162.9 360.7 167.0 360.3 172.2 360.2C177.5 360.2 185.4 360.3 191.0 360.4C196.6 360.5 201.5 360.8 205.6 360.9C209.8 360.9 214.3 360.8 216.0 360.8M120.0 357.2C121.4 357.4 126.0 357.9 128.5 358.2C131.0 358.6 132.7 359.0 134.8 359.5C136.8 360.0 138.7 361.0 141.0 361.5C143.3 362.0 145.4 362.3 148.5 362.5C151.6 362.7 157.8 362.5 159.6 362.5M120.0 361.9C122.1 362.0 128.4 362.3 132.6 362.5C136.8 362.7 140.6 362.9 145.1 363.0C149.6 363.1 155.1 363.1 159.6 363.1C164.1 363.1 167.9 362.9 172.2 363.0C176.6 363.1 180.4 363.2 186.0 363.5C191.6 363.8 200.6 364.3 205.6 364.5C210.6 364.7 214.3 364.7 216.0 364.8M120.0 361.9C121.4 362.1 125.0 362.6 128.5 363.1C132.0 363.6 136.8 364.3 141.0 364.8C145.2 365.2 150.4 365.8 153.5 366.0C156.6 366.2 156.9 366.2 159.6 366.2C162.3 366.3 166.2 366.0 169.8 366.2C173.3 366.5 177.5 367.0 181.0 367.5C184.5 368.0 186.9 368.6 191.0 369.4C195.1 370.1 201.5 371.4 205.6 371.9C209.8 372.3 214.3 372.0 216.0 372.0M120.0 364.4C121.4 364.5 125.0 364.9 128.5 365.4C132.0 365.8 137.9 366.7 141.0 367.1C144.1 367.5 145.2 367.9 147.2 367.9C149.3 367.9 151.4 367.5 153.5 367.2C155.6 367.0 156.5 366.7 159.6 366.5C162.8 366.3 167.0 366.1 172.2 366.0C177.5 365.9 185.4 365.7 191.0 365.6C196.6 365.5 201.5 365.5 205.6 365.5C209.8 365.5 214.3 365.5 216.0 365.5M120.0 367.5C122.5 367.9 130.6 368.9 134.8 369.6C138.9 370.4 141.6 370.7 144.8 371.9C147.9 373.1 151.0 375.8 153.5 376.9C156.0 377.9 156.5 377.7 159.6 378.1C162.8 378.5 167.0 379.1 172.2 379.4C177.5 379.7 185.4 380.0 191.0 380.0C196.6 380.0 201.5 379.7 205.6 379.4C209.8 379.1 214.3 378.3 216.0 378.1M120.0 370.6C121.4 370.7 125.0 371.6 128.5 371.2C132.0 370.9 137.9 369.4 141.0 368.8C144.1 368.1 145.2 367.9 147.2 367.5C149.3 367.1 152.5 366.8 153.5 366.6M120.0 375.0C121.4 375.1 125.8 375.6 128.5 375.6C131.2 375.6 133.5 375.6 136.0 375.0C138.5 374.4 140.6 373.0 143.5 371.9C146.4 370.7 150.8 369.0 153.5 368.1C156.2 367.2 158.6 366.9 159.6 366.6M120.0 385.6C122.0 384.6 128.1 381.9 132.2 379.4C136.4 376.9 141.2 372.8 144.8 370.6C148.3 368.4 151.0 367.4 153.5 366.2C156.0 365.1 158.6 364.2 159.6 363.8M159.6 369.4C161.7 369.6 167.0 370.1 172.2 370.6C177.5 371.1 185.4 372.1 191.0 372.5C196.6 372.9 201.5 372.8 205.6 372.9C209.8 373.0 214.3 373.1 216.0 373.1M120.0 380.6C121.4 380.5 125.4 379.6 128.5 379.6C131.6 379.6 136.8 380.5 138.5 380.6"/>
<path class="b" clip-path="url(#k14)" d="M176.0 382.5C178.1 382.4 183.6 382.1 188.5 381.9C193.4 381.7 199.4 381.1 205.6 381.2C211.9 381.4 219.4 382.1 226.0 382.5C232.6 382.9 239.0 383.6 245.2 383.8C251.5 383.9 255.0 383.1 263.5 383.1C272.0 383.1 290.6 383.6 296.0 383.8M176.0 385.0C176.8 385.6 178.9 387.3 181.0 388.8C183.1 390.2 185.6 392.5 188.5 393.8C191.4 395.0 194.3 395.6 198.5 396.2C202.7 396.9 208.9 397.1 213.5 397.5C218.1 397.9 220.7 398.4 226.0 398.8C231.3 399.1 239.0 399.4 245.2 399.4C251.5 399.4 258.4 399.3 263.5 398.8C268.6 398.2 272.2 397.3 276.0 396.2C279.8 395.2 282.7 393.5 286.0 392.5C289.3 391.5 294.3 390.4 296.0 390.0M176.0 395.0C177.0 394.4 179.8 392.4 182.2 391.2C184.8 390.1 187.1 389.0 191.0 388.1C194.9 387.3 200.8 386.5 205.6 386.2C210.4 386.0 215.3 386.5 219.8 386.9C224.2 387.3 228.0 388.1 232.2 388.8C236.5 389.4 241.1 390.5 245.2 390.6C249.4 390.7 253.2 389.7 257.2 389.4C261.3 389.1 265.6 388.4 269.8 388.8C273.9 389.1 277.9 390.4 282.2 391.2C286.6 392.1 293.7 393.3 296.0 393.8M176.0 410.0C178.1 409.5 185.2 407.2 188.5 406.9C191.8 406.6 193.1 407.6 196.0 408.1C198.9 408.6 202.3 410.0 205.6 410.0C209.0 410.0 212.6 409.1 216.0 408.1C219.4 407.2 223.1 405.4 226.0 404.4C228.9 403.3 230.3 402.5 233.5 401.9C236.7 401.2 240.2 400.8 245.2 400.6C250.2 400.4 258.4 400.0 263.5 400.6C268.6 401.2 272.2 403.5 276.0 404.4C279.8 405.2 282.7 405.2 286.0 405.6C289.3 406.0 294.3 406.7 296.0 406.9M176.0 416.9C178.1 417.0 183.6 417.1 188.5 417.5C193.4 417.9 201.5 419.6 205.6 419.4C209.8 419.2 210.5 417.2 213.5 416.2C216.5 415.3 219.8 414.3 223.5 413.8C227.2 413.2 232.4 413.0 236.0 412.8C239.6 412.5 241.7 412.5 245.2 412.2C248.8 412.0 253.8 411.7 257.2 411.2C260.7 410.8 262.9 410.3 266.0 409.4C269.1 408.4 272.7 406.9 276.0 405.6C279.3 404.4 282.7 403.0 286.0 401.9C289.3 400.7 294.3 399.3 296.0 398.8M176.0 430.0C178.1 429.3 184.8 426.9 188.5 425.6C192.2 424.4 195.6 423.2 198.5 422.5C201.4 421.8 203.1 421.7 205.6 421.2C208.1 420.8 210.1 420.6 213.5 420.0C216.9 419.4 221.8 418.1 226.0 417.5C230.2 416.9 234.3 416.7 238.5 416.2C242.7 415.8 247.2 415.5 251.0 415.0C254.8 414.5 258.1 414.0 261.0 413.1C263.9 412.3 266.0 411.0 268.5 410.0C271.0 409.0 274.8 407.4 276.0 406.9M216.0 408.5C217.7 408.4 221.1 408.1 226.0 408.0C230.9 407.9 240.2 407.8 245.2 408.1C250.2 408.5 252.5 409.2 256.0 410.0C259.5 410.8 262.7 412.0 266.0 413.1C269.3 414.3 272.7 415.8 276.0 416.9C279.3 417.9 282.7 418.9 286.0 419.4C289.3 419.9 294.3 419.9 296.0 420.0M205.6 421.2C206.9 421.9 210.9 423.3 213.5 425.0C216.1 426.7 218.5 429.0 221.0 431.2C223.5 433.5 226.0 436.5 228.5 438.8C231.0 441.0 233.5 443.4 236.0 445.0C238.5 446.6 240.6 447.7 243.5 448.1C246.4 448.5 250.2 448.0 253.5 447.5C256.8 447.0 259.8 445.8 263.5 445.0C267.2 444.2 271.8 443.2 276.0 442.5C280.2 441.8 285.2 440.8 288.5 440.6C291.8 440.4 294.8 441.1 296.0 441.2M208.5 421.9C210.0 422.6 214.3 424.3 217.2 426.2C220.2 428.2 223.3 431.8 226.0 433.8C228.7 435.7 230.6 437.3 233.5 438.1C236.4 439.0 240.2 439.0 243.5 438.8C246.8 438.5 250.2 438.0 253.5 436.9C256.8 435.7 260.2 433.8 263.5 431.9C266.8 430.0 270.4 427.3 273.5 425.6C276.6 424.0 278.5 422.7 282.2 421.9C286.0 421.0 293.7 420.8 296.0 420.6M176.0 440.0C177.7 441.0 182.7 444.4 186.0 446.2C189.3 448.1 192.7 450.0 196.0 451.2C199.3 452.5 202.7 454.2 205.6 453.8C208.5 453.3 210.5 450.5 213.5 448.8C216.5 447.0 220.4 444.7 223.5 443.1C226.6 441.6 229.8 440.2 232.2 439.4C234.8 438.5 237.5 438.3 238.5 438.1M205.6 453.8C206.9 454.4 211.1 456.6 213.5 457.5C215.9 458.4 217.2 459.6 219.8 459.4C222.2 459.2 225.4 457.4 228.5 456.2C231.6 455.1 234.8 453.4 238.5 452.5C242.2 451.6 246.8 450.7 251.0 450.6C255.2 450.5 259.3 451.6 263.5 451.9C267.7 452.2 272.9 453.0 276.0 452.5C279.1 452.0 280.2 450.0 282.2 448.8C284.3 447.5 286.2 445.8 288.5 445.0C290.8 444.2 294.8 444.0 296.0 443.8M176.0 458.8C178.1 459.4 184.3 461.5 188.5 462.5C192.7 463.5 197.7 464.6 201.0 465.0C204.3 465.4 206.0 465.6 208.5 465.0C211.0 464.4 213.1 462.5 216.0 461.2C218.9 460.0 222.7 458.6 226.0 457.5C229.3 456.4 232.8 455.0 236.0 454.4C239.2 453.8 241.7 453.6 245.2 453.8C248.8 453.9 252.1 454.8 257.2 455.0C262.4 455.2 269.5 454.9 276.0 455.0C282.5 455.1 292.7 455.5 296.0 455.6M208.5 465.0C209.3 465.4 211.8 466.6 213.5 467.5C215.2 468.4 217.7 469.8 218.5 470.2M236.0 438.8C238.5 439.2 246.8 440.2 251.0 441.2C255.2 442.3 257.7 444.3 261.0 445.0C264.3 445.7 267.9 445.8 271.0 445.6C274.1 445.4 276.8 444.5 279.8 443.8C282.7 443.0 287.0 441.7 288.5 441.2M268.5 470.2C269.8 470.0 272.7 469.1 276.0 468.8C279.3 468.4 285.2 468.2 288.5 468.1C291.8 468.0 294.8 468.1 296.0 468.1"/>
<path class="b" clip-path="url(#k15)" d="M176.0 460.0C178.1 460.6 184.3 462.8 188.5 463.8C192.7 464.7 197.7 465.4 201.0 465.6C204.3 465.8 206.0 465.6 208.5 465.0C211.0 464.4 213.5 462.7 216.0 461.9C218.5 461.0 222.2 460.3 223.5 460.0M208.5 465.6C210.0 466.2 214.3 468.0 217.2 469.4C220.2 470.7 222.9 472.5 226.0 473.8C229.1 475.0 232.8 476.1 236.0 476.9C239.2 477.7 242.3 478.5 245.2 478.5C248.2 478.5 250.5 477.9 253.5 476.9C256.5 475.9 260.2 473.8 263.5 472.5C266.8 471.2 269.8 470.0 273.5 469.4C277.2 468.8 282.2 468.8 286.0 468.8C289.8 468.8 294.3 469.3 296.0 469.4M176.0 485.0C177.2 484.4 180.8 482.4 183.5 481.2C186.2 480.1 188.6 478.8 192.2 478.1C195.9 477.5 202.1 477.5 205.6 477.2C209.2 477.0 210.1 476.6 213.5 476.9C216.9 477.1 222.2 478.0 226.0 478.8C229.8 479.5 232.8 480.9 236.0 481.5C239.2 482.1 241.7 482.2 245.2 482.5C248.8 482.8 253.2 483.3 257.2 483.5C261.3 483.7 265.6 483.3 269.8 483.8C273.9 484.2 277.9 485.7 282.2 486.2C286.6 486.8 293.7 486.8 296.0 486.9M208.5 478.1C210.0 478.9 214.3 480.9 217.2 482.5C220.2 484.1 222.9 486.0 226.0 487.5C229.1 489.0 232.8 490.4 236.0 491.2C239.2 492.1 242.3 492.8 245.2 492.8C248.2 492.8 250.9 492.0 253.5 491.2C256.1 490.5 258.3 489.3 261.0 488.1C263.7 487.0 266.2 485.3 269.8 484.4C273.3 483.4 277.9 482.9 282.2 482.5C286.6 482.1 293.7 482.3 296.0 482.2M176.0 505.0C177.7 504.7 182.7 504.0 186.0 503.1C189.3 502.3 192.7 500.8 196.0 500.0C199.3 499.2 202.3 499.0 205.6 498.1C209.0 497.3 212.2 495.8 216.0 495.0C219.8 494.2 223.6 493.5 228.5 493.1C233.4 492.8 240.5 492.7 245.2 492.8C250.0 492.8 253.2 493.5 257.2 493.5C261.3 493.5 265.6 493.0 269.8 492.8C273.9 492.5 277.9 492.0 282.2 491.9C286.6 491.7 293.7 491.9 296.0 491.9M176.0 506.9C177.7 506.6 182.7 505.8 186.0 505.0C189.3 504.2 192.7 502.8 196.0 501.9C199.3 500.9 202.3 500.2 205.6 499.4C209.0 498.5 212.2 497.5 216.0 496.9C219.8 496.2 223.6 495.7 228.5 495.6C233.4 495.5 241.1 496.2 245.2 496.2C249.4 496.2 251.3 495.4 253.5 495.6C255.7 495.8 256.8 496.1 258.5 497.5C260.2 498.9 261.4 500.6 263.5 503.8C265.6 506.9 268.5 511.9 271.0 516.2C273.5 520.6 276.0 525.8 278.5 530.0C281.0 534.2 283.9 538.5 286.0 541.2C288.1 544.0 290.5 545.4 291.4 546.2M205.6 499.4C207.4 500.0 212.6 501.9 216.0 503.1C219.4 504.4 222.7 505.8 226.0 506.9C229.3 507.9 232.8 509.0 236.0 509.4C239.2 509.8 242.8 509.2 245.2 509.4C247.8 509.6 248.8 509.7 251.0 510.6C253.2 511.6 255.6 512.8 258.5 515.0C261.4 517.2 265.2 520.6 268.5 523.8C271.8 526.9 275.6 530.8 278.5 533.8C281.4 536.7 283.9 539.2 286.0 541.2C288.1 543.3 290.5 545.4 291.4 546.2M205.6 500.0C207.4 500.7 212.6 502.9 216.0 504.4C219.4 505.8 222.7 507.5 226.0 508.8C229.3 510.0 232.8 511.1 236.0 511.9C239.2 512.6 242.3 512.6 245.2 513.1C248.2 513.6 250.9 514.1 253.5 515.0C256.1 515.9 258.1 516.8 261.0 518.8C263.9 520.7 267.7 524.0 271.0 526.9C274.3 529.8 277.6 533.0 281.0 536.2C284.4 539.5 289.6 544.6 291.4 546.2M291.4 546.2 L296.0 540.0M291.4 546.2 L296.0 542.8"/>
<path class="b" clip-path="url(#k16)" d="M286.0 421.2C287.7 421.4 293.1 421.2 296.0 421.9C298.9 422.5 301.0 423.4 303.5 425.0C306.0 426.6 308.5 429.1 311.0 431.2C313.5 433.4 316.0 436.0 318.5 438.1C321.0 440.2 323.1 442.1 326.0 443.8C328.9 445.4 333.4 447.2 336.0 448.1C338.6 449.0 338.8 449.1 341.8 449.0C344.7 448.9 349.9 447.7 353.5 447.8C357.1 447.8 360.2 448.7 363.5 449.4C366.8 450.1 370.6 451.3 373.5 451.9C376.4 452.4 377.9 453.0 381.0 452.8C384.1 452.5 388.1 451.1 392.2 450.6C396.4 450.2 403.7 450.1 406.0 450.0M286.0 441.2C287.2 441.2 291.4 440.9 293.5 441.2C295.6 441.6 296.4 441.9 298.5 443.1C300.6 444.4 303.5 446.7 306.0 448.8C308.5 450.8 311.0 453.5 313.5 455.6C316.0 457.7 318.5 459.7 321.0 461.2C323.5 462.8 326.0 463.9 328.5 465.0C331.0 466.1 333.8 467.4 336.0 468.1C338.2 468.9 338.8 469.0 341.8 469.4C344.7 469.8 349.9 470.0 353.5 470.6C357.1 471.2 360.2 472.5 363.5 473.1C366.8 473.8 369.8 474.2 373.5 474.4C377.2 474.5 382.2 474.4 386.0 474.0C389.8 473.6 392.7 472.6 396.0 471.9C399.3 471.1 404.3 469.8 406.0 469.4M286.0 445.0C287.2 444.8 290.6 443.9 293.5 443.8C296.4 443.6 300.2 444.0 303.5 444.4C306.8 444.8 310.8 445.3 313.5 446.2C316.2 447.2 317.9 448.9 319.8 450.0C321.6 451.1 322.9 452.9 324.8 453.1C326.6 453.3 328.7 451.9 331.0 451.2C333.3 450.6 336.7 449.8 338.5 449.4C340.3 449.0 341.2 449.1 341.8 449.0M293.5 442.5C294.8 442.8 298.1 442.9 301.0 444.4C303.9 445.8 308.1 449.1 311.0 451.2C313.9 453.4 316.0 455.7 318.5 457.5C321.0 459.3 323.5 460.5 326.0 461.9C328.5 463.2 330.9 464.6 333.5 465.6C336.1 466.7 338.8 467.9 341.8 468.1C344.7 468.3 347.8 467.6 351.0 466.9C354.2 466.1 357.7 464.8 361.0 463.8C364.3 462.7 367.7 461.3 371.0 460.6C374.3 460.0 377.5 459.5 381.0 459.8C384.5 460.0 388.1 461.2 392.2 461.9C396.4 462.6 403.7 463.6 406.0 464.0M286.0 453.8C288.1 453.8 294.8 453.5 298.5 453.8C302.2 454.0 305.2 454.9 308.5 455.0C311.8 455.1 316.0 454.5 318.5 454.4C321.0 454.3 321.8 453.9 323.5 454.4C325.2 454.9 326.8 456.1 328.5 457.5C330.2 458.9 331.8 460.9 333.5 462.5C335.2 464.1 337.1 465.9 338.5 466.9C339.9 467.8 341.2 467.9 341.8 468.1M286.0 468.8C288.1 468.8 294.3 468.5 298.5 468.8C302.7 469.0 307.2 469.4 311.0 470.0C314.8 470.6 318.1 471.9 321.0 472.5C323.9 473.1 326.0 473.7 328.5 473.5C331.0 473.3 333.8 472.0 336.0 471.2C338.2 470.5 340.8 469.4 341.8 469.0M286.0 481.9C288.1 481.9 294.3 481.7 298.5 481.9C302.7 482.1 306.8 482.7 311.0 483.1C315.2 483.5 318.4 484.3 323.5 484.4C328.6 484.5 336.8 483.9 341.8 483.8C346.8 483.6 349.5 483.8 353.5 483.5C357.5 483.2 361.4 482.2 366.0 481.9C370.6 481.5 374.3 481.2 381.0 481.2C387.7 481.3 401.8 482.1 406.0 482.2M286.0 485.6C288.1 485.7 294.3 485.8 298.5 486.2C302.7 486.7 307.2 487.3 311.0 488.1C314.8 489.0 318.1 490.1 321.0 491.2C323.9 492.4 326.0 493.6 328.5 495.0C331.0 496.4 334.0 498.2 336.0 499.4C338.0 500.5 339.4 501.5 340.4 501.9C341.3 502.3 340.0 502.2 341.8 501.9C343.5 501.6 347.8 501.1 351.0 500.0C354.2 498.9 357.7 496.3 361.0 495.0C364.3 493.7 367.7 492.9 371.0 492.2C374.3 491.6 377.5 491.6 381.0 491.2C384.5 490.9 388.1 490.6 392.2 490.0C396.4 489.4 403.7 487.9 406.0 487.5M286.0 491.9C288.1 491.9 294.3 491.8 298.5 491.9C302.7 491.9 307.2 492.0 311.0 492.2C314.8 492.5 318.5 492.9 321.0 493.1C323.5 493.3 325.2 493.4 326.0 493.5M312.2 510.2C313.1 509.0 315.4 505.2 317.2 502.5C319.1 499.8 321.4 496.2 323.5 493.8C325.6 491.2 327.7 489.1 329.8 487.5C331.8 485.9 334.0 485.0 336.0 484.4C338.0 483.8 340.8 483.9 341.8 483.8M329.8 510.2C330.8 509.5 334.2 507.0 336.0 505.6C337.8 504.2 339.6 502.5 340.4 501.9M330.4 510.2C331.4 509.5 334.9 507.4 336.6 506.0C338.4 504.6 340.3 502.8 341.0 502.1M341.8 501.9C343.7 501.8 349.9 501.9 353.5 501.2C357.1 500.6 360.2 499.1 363.5 498.1C366.8 497.2 369.8 496.2 373.5 495.6C377.2 495.0 382.2 494.9 386.0 494.4C389.8 493.9 392.7 493.3 396.0 492.5C399.3 491.7 404.3 489.9 406.0 489.4"/>
<path class="b" clip-path="url(#k17)" d="M196.0 322.5C197.6 322.4 202.8 321.9 205.6 321.8C208.3 321.8 210.0 321.9 212.5 322.2C215.0 322.4 217.4 322.7 220.8 323.2C224.3 323.6 229.3 324.3 233.3 325.0C237.4 325.7 241.0 326.8 245.2 327.3C249.3 327.9 256.1 328.2 258.3 328.3M196.0 309.0C197.6 309.1 202.5 309.9 205.6 309.4C208.7 309.0 211.6 307.5 214.8 306.2C217.9 305.0 221.4 303.3 224.8 301.9C228.1 300.5 231.3 298.7 234.8 297.8C238.2 296.8 241.3 296.5 245.2 296.5C249.2 296.5 256.3 297.5 258.5 297.8M205.6 309.4C207.1 309.8 211.6 310.9 214.8 311.9C217.9 312.9 221.6 314.2 224.8 315.6C227.9 316.9 231.0 318.8 233.5 320.0C236.0 321.2 237.7 322.5 239.8 323.1C241.8 323.7 242.9 323.8 246.0 323.8C249.1 323.8 256.4 323.2 258.5 323.1M200.0 337.9C202.1 337.8 208.3 337.7 212.5 337.1C216.7 336.5 221.2 335.2 225.0 334.2C228.8 333.1 232.2 331.8 235.0 330.8C237.8 329.9 240.0 328.9 241.7 328.3C243.4 327.8 244.6 327.6 245.2 327.5M200.0 342.1C201.4 342.0 205.6 342.0 208.3 341.8C211.1 341.6 213.9 341.3 216.7 340.8C219.4 340.4 222.2 339.7 225.0 339.0C227.8 338.3 230.8 337.4 233.3 336.7C235.8 335.9 238.0 334.9 240.0 334.3C242.0 333.8 243.2 333.4 245.2 333.3C247.1 333.3 250.6 334.0 251.7 334.2M200.0 352.1C201.4 352.1 205.8 352.4 208.3 352.1C210.8 351.8 212.9 351.2 215.0 350.4C217.1 349.7 218.9 348.5 220.8 347.5C222.8 346.5 224.9 345.4 226.7 344.2C228.5 342.9 230.1 341.2 231.7 340.0C233.2 338.8 234.4 337.6 235.8 336.7C237.2 335.7 239.3 334.7 240.0 334.3M200.0 341.8C200.9 341.9 203.5 342.2 205.6 342.3C207.7 342.5 210.2 342.6 212.5 342.9C214.8 343.2 217.1 343.8 219.2 344.2C221.2 344.6 223.2 345.0 225.0 345.4C226.8 345.9 228.3 346.3 230.0 346.8C231.7 347.3 233.3 347.9 235.0 348.3C236.7 348.8 238.3 349.3 240.0 349.6C241.7 349.9 243.1 350.1 245.0 350.0C246.9 349.9 250.6 349.0 251.7 348.8M215.0 346.7C216.0 346.4 218.8 345.5 220.8 345.0C222.9 344.5 225.4 344.0 227.5 343.5C229.6 343.0 231.0 342.6 233.3 342.2C235.7 341.9 238.2 341.5 241.7 341.2C245.1 341.0 252.1 340.9 254.2 340.8M200.0 352.2C200.9 352.2 203.5 352.2 205.6 352.3C207.7 352.5 209.3 352.8 212.5 353.0C215.7 353.2 219.6 353.6 225.0 353.7C230.4 353.7 239.6 353.5 245.2 353.3C250.7 353.2 256.1 353.0 258.3 352.9M200.0 358.5C200.9 358.5 202.8 358.5 205.6 358.3C208.4 358.1 212.0 357.6 216.7 357.3C221.3 357.0 228.6 356.6 233.3 356.5C238.1 356.4 241.0 356.6 245.2 356.7C249.3 356.8 256.1 357.0 258.3 357.1M200.0 360.2C202.1 360.2 208.3 360.3 212.5 360.2C216.7 360.1 221.5 359.7 225.0 359.6C228.5 359.5 230.0 359.6 233.3 359.7C236.7 359.8 241.7 360.0 245.2 360.2C248.6 360.4 252.7 360.7 254.2 360.8M200.0 364.8C202.1 364.9 208.3 365.0 212.5 365.0C216.7 365.0 221.5 364.6 225.0 364.6C228.5 364.6 230.0 364.8 233.3 365.0C236.7 365.2 241.0 365.8 245.2 365.8C249.3 365.8 256.1 365.1 258.3 365.0M200.0 366.7C202.1 366.8 208.3 367.3 212.5 367.5C216.7 367.7 220.8 368.1 225.0 367.9C229.2 367.8 234.1 366.9 237.5 366.7C240.9 366.4 242.4 366.3 245.2 366.2C247.9 366.2 252.7 366.5 254.2 366.5M200.0 371.7C202.1 371.8 209.0 372.4 212.5 372.5C216.0 372.6 218.1 372.5 220.8 372.1C223.6 371.7 226.4 370.6 229.2 370.0C231.9 369.4 234.8 368.7 237.5 368.3C240.2 368.0 241.7 367.9 245.2 367.9C248.6 367.9 256.1 368.3 258.3 368.3M200.0 373.3C202.8 373.4 212.5 373.8 216.7 373.8C220.8 373.8 222.2 373.7 225.0 373.3C227.8 373.0 230.8 372.2 233.3 371.7C235.8 371.1 238.9 370.3 240.0 370.0M208.3 380.2C209.7 379.7 213.9 377.8 216.7 377.5C219.4 377.2 222.9 377.9 225.0 378.3C227.1 378.8 228.5 379.9 229.2 380.2"/>
</g>
<g clip-path="url(#c1)">
<path class="b" clip-path="url(#k18)" d="M529.8 305.6C531.0 305.7 534.5 305.8 537.5 306.2C540.5 306.7 543.8 307.4 547.5 308.1C551.2 308.9 555.8 309.9 560.0 310.6C564.2 311.4 569.2 312.3 572.5 312.8C575.8 313.2 578.6 313.4 579.9 313.5M529.8 335.2C531.0 335.3 535.0 335.9 537.5 335.6C540.0 335.4 542.5 334.7 545.0 333.8C547.5 332.8 550.0 331.5 552.5 330.0C555.0 328.5 557.5 326.5 560.0 325.0C562.5 323.5 565.0 322.0 567.5 321.0C570.0 320.0 572.9 319.4 575.0 319.0C577.1 318.6 579.1 318.6 579.9 318.5M529.8 340.0C531.7 339.9 537.2 339.8 541.2 339.4C545.2 339.0 549.6 338.2 553.8 337.5C557.9 336.8 561.9 335.7 566.2 335.0C570.6 334.3 577.6 333.8 579.9 333.5M529.8 342.5C531.7 342.4 537.2 342.3 541.2 341.9C545.2 341.5 549.6 340.6 553.8 340.0C557.9 339.4 561.9 338.6 566.2 338.1C570.6 337.6 577.6 337.1 579.9 336.9M529.8 343.8C532.7 343.9 539.1 344.3 547.5 344.4C555.9 344.5 574.5 344.4 579.9 344.4M529.8 348.1C531.7 347.9 537.2 347.6 541.2 346.9C545.2 346.1 550.6 344.5 553.8 343.8C556.9 343.0 557.3 343.0 560.0 342.5C562.7 342.0 566.7 341.1 570.0 340.6C573.3 340.2 578.2 339.9 579.9 339.8M529.8 350.0C532.7 350.0 539.1 349.8 547.5 349.8C555.9 349.8 574.5 350.0 579.9 350.0M529.8 351.9C532.7 351.8 539.1 351.5 547.5 351.5C555.9 351.5 574.5 351.8 579.9 351.9M529.8 361.2C531.7 361.4 537.2 362.0 541.2 361.9C545.2 361.8 549.6 361.1 553.8 360.6C557.9 360.1 561.9 359.2 566.2 358.8C570.6 358.3 577.6 358.2 579.9 358.1M529.8 363.8C532.7 363.6 541.4 363.4 547.5 363.1C553.6 362.8 560.9 362.2 566.2 361.9C571.6 361.6 577.6 361.4 579.9 361.2M529.8 367.5C531.7 367.5 537.2 367.2 541.2 367.5C545.2 367.8 549.6 369.5 553.8 369.4C557.9 369.3 561.9 367.6 566.2 366.9C570.6 366.1 577.6 365.3 579.9 365.0M529.8 365.6C531.7 365.5 537.2 365.3 541.2 365.0C545.2 364.7 549.6 364.1 553.8 363.8C557.9 363.4 561.9 363.2 566.2 363.1C570.6 363.0 577.6 363.1 579.9 363.1M529.8 379.4C531.0 379.2 534.5 378.6 537.5 378.1C540.5 377.6 544.2 376.5 547.5 376.2C550.8 376.0 554.4 376.4 557.5 376.9C560.6 377.4 563.8 378.6 566.2 379.4C568.8 380.1 571.5 380.9 572.5 381.2"/>
<path class="b" clip-path="url(#k19)" d="M529.8 380.0C531.5 379.6 536.6 378.0 540.0 377.5C543.4 377.0 546.7 376.6 550.0 376.9C553.3 377.2 556.7 378.3 560.0 379.4C563.3 380.4 566.7 382.1 570.0 383.1C573.3 384.2 578.2 385.2 579.9 385.6M529.8 383.1C531.0 383.4 535.0 383.9 537.5 385.0C540.0 386.1 542.5 388.6 545.0 390.0C547.5 391.4 550.0 392.6 552.5 393.1C555.0 393.6 557.1 393.3 560.0 393.1C562.9 393.0 566.7 392.5 570.0 392.2C573.3 392.0 578.2 391.6 579.9 391.5M529.8 400.6C531.7 400.5 537.5 400.4 541.2 399.8C545.0 399.1 549.0 397.7 552.5 396.9C556.0 396.1 559.2 395.5 562.5 395.0C565.8 394.5 569.6 394.1 572.5 393.8C575.4 393.4 578.6 393.2 579.9 393.1M529.8 401.9C531.5 401.8 536.6 401.8 540.0 401.2C543.4 400.7 546.7 399.6 550.0 398.8C553.3 397.9 556.7 396.9 560.0 396.2C563.3 395.6 566.7 395.3 570.0 395.0C573.3 394.7 578.2 394.5 579.9 394.4M529.8 408.8C531.0 408.5 534.5 408.1 537.5 407.5C540.5 406.9 544.2 405.3 547.5 405.0C550.8 404.7 554.2 405.4 557.5 405.6C560.8 405.9 563.8 406.4 567.5 406.5C571.2 406.6 577.8 406.3 579.9 406.2M529.8 416.9C531.7 416.6 537.2 415.6 541.2 415.0C545.2 414.4 550.0 413.3 553.8 413.1C557.5 412.9 560.6 413.2 563.8 413.8C566.9 414.3 569.8 415.6 572.5 416.2C575.2 416.9 578.6 417.3 579.9 417.5M529.8 430.0C531.0 430.4 535.0 431.0 537.5 432.5C540.0 434.0 542.5 436.7 545.0 438.8C547.5 440.8 550.0 443.2 552.5 445.0C555.0 446.8 557.1 448.2 560.0 449.4C562.9 450.5 566.7 451.4 570.0 451.9C573.3 452.4 578.2 452.4 579.9 452.5M529.8 437.5C531.5 438.1 536.6 439.6 540.0 441.2C543.4 442.9 546.7 445.4 550.0 447.5C553.3 449.6 556.7 451.9 560.0 453.8C563.3 455.6 566.7 457.4 570.0 458.8C573.3 460.1 578.2 461.4 579.9 461.9M529.8 456.2C531.5 456.5 536.6 456.9 540.0 457.5C543.4 458.1 546.7 459.1 550.0 460.0C553.3 460.9 556.7 462.3 560.0 463.1C563.3 464.0 566.7 465.0 570.0 465.0C573.3 465.0 578.2 463.4 579.9 463.1"/>
<path class="b" clip-path="url(#k20)" d="M529.8 457.5C531.5 457.5 536.6 457.1 540.0 457.8C543.4 458.4 546.7 459.7 550.0 461.2C553.3 462.8 556.7 465.0 560.0 466.9C563.3 468.8 566.7 471.1 570.0 472.5C573.3 473.9 578.2 474.6 579.9 475.0M553.8 450.0C554.8 450.4 557.9 451.6 560.0 452.5C562.1 453.4 564.2 454.6 566.2 455.6C568.3 456.7 570.2 457.9 572.5 458.8C574.8 459.6 578.6 460.3 579.9 460.6M560.0 450.0C561.7 450.3 566.7 451.4 570.0 451.9C573.3 452.4 578.2 452.9 579.9 453.1M529.8 488.8C531.5 488.3 536.6 487.2 540.0 486.2C543.4 485.2 546.7 483.7 550.0 482.8C553.3 481.8 556.7 480.9 560.0 480.6C563.3 480.3 566.7 480.8 570.0 481.0C573.3 481.2 578.2 481.7 579.9 481.9M529.8 505.6C531.5 505.5 536.6 505.5 540.0 505.0C543.4 504.5 546.7 503.5 550.0 502.5C553.3 501.5 556.7 500.1 560.0 498.8C563.3 497.4 566.7 495.5 570.0 494.4C573.3 493.2 578.2 492.3 579.9 491.9M529.8 506.2C531.5 506.5 536.6 507.4 540.0 507.5C543.4 507.6 547.1 507.4 550.0 506.9C552.9 506.4 555.0 505.5 557.5 504.4C560.0 503.2 562.5 501.2 565.0 500.0C567.5 498.8 570.0 497.6 572.5 496.9C575.0 496.1 578.6 495.8 579.9 495.6"/>
<path class="b" d="M529.8 195.8C532.3 196.0 539.7 196.0 545.0 196.9C550.3 197.7 555.9 199.8 561.7 201.0C567.5 202.3 576.8 203.6 579.8 204.2M529.8 216.7C532.3 216.5 540.4 216.1 545.0 215.6C549.6 215.1 553.7 214.4 557.5 213.5C561.3 212.7 564.2 211.3 567.9 210.4C571.6 209.5 577.8 208.7 579.8 208.3M529.8 220.2 L579.8 219.8M529.8 222.5 L579.8 221.2M529.8 224.6 L579.8 222.9"/>
</g>
<g clip-path="url(#c2)">
<path class="b" clip-path="url(#k18)" d="M596.2 296.9C597.5 297.1 601.0 297.2 604.0 298.1C607.0 299.1 610.5 300.9 614.0 302.5C617.5 304.1 621.5 306.1 625.2 307.5C629.0 308.9 633.0 310.2 636.5 311.0C640.0 311.8 644.8 312.2 646.5 312.5M596.2 323.1C598.4 323.1 605.2 323.2 609.0 322.8C612.8 322.3 615.7 321.6 619.0 320.6C622.3 319.6 625.9 318.0 629.0 316.9C632.1 315.7 634.8 314.5 637.8 313.8C640.7 313.0 645.0 312.7 646.5 312.5M596.2 323.8C599.0 323.7 607.9 323.8 612.8 323.5C617.6 323.2 621.1 322.2 625.2 321.9C629.4 321.5 634.2 321.4 637.8 321.2C641.3 321.1 645.0 321.2 646.5 321.2M596.2 326.9C598.0 326.8 602.7 326.9 606.5 326.5C610.3 326.1 614.8 325.0 619.0 324.4C623.2 323.8 626.9 323.0 631.5 322.8C636.1 322.5 644.0 322.8 646.5 322.8M596.2 330.0C598.0 330.0 603.1 330.5 606.5 330.0C609.9 329.5 613.2 327.7 616.5 326.9C619.8 326.0 623.0 325.4 626.5 325.0C630.0 324.6 634.4 324.5 637.8 324.4C641.1 324.2 645.0 324.1 646.5 324.0M596.2 334.4C597.5 334.3 601.5 334.4 604.0 333.8C606.5 333.1 609.0 331.8 611.5 330.6C614.0 329.5 616.5 327.8 619.0 326.9C621.5 325.9 625.2 325.3 626.5 325.0M596.2 336.2C598.0 336.3 603.1 336.3 606.5 336.5C609.9 336.7 613.6 337.5 616.5 337.2C619.4 337.0 621.5 336.0 624.0 335.0C626.5 334.0 629.0 332.1 631.5 331.2C634.0 330.4 636.5 330.0 639.0 329.8C641.5 329.5 645.2 330.0 646.5 330.0M596.2 339.0C598.0 339.1 603.5 339.5 606.5 339.4C609.5 339.2 611.5 338.5 614.0 338.1C616.5 337.8 619.0 337.0 621.5 337.2C624.0 337.5 626.3 338.5 629.0 339.4C631.7 340.2 634.8 341.6 637.8 342.5C640.7 343.4 645.0 344.6 646.5 345.0M596.2 342.5C598.0 342.4 603.5 342.2 606.5 341.9C609.5 341.6 611.5 341.4 614.0 340.6C616.5 339.9 619.0 338.8 621.5 337.5C624.0 336.2 626.5 334.2 629.0 333.1C631.5 332.1 633.6 331.5 636.5 331.2C639.4 331.0 644.8 331.8 646.5 331.9M596.2 348.8C597.5 348.6 601.2 348.6 604.0 348.1C606.8 347.6 609.8 346.8 612.8 345.6C615.7 344.5 618.8 342.6 621.5 341.2C624.2 339.9 627.8 338.1 629.0 337.5M596.2 353.8C598.0 353.6 602.7 353.3 606.5 353.1C610.3 352.9 614.8 353.0 619.0 352.5C623.2 352.0 626.9 351.1 631.5 350.0C636.1 348.9 644.0 346.4 646.5 345.6M596.2 355.0C599.0 355.0 607.3 355.2 612.8 355.0C618.2 354.8 624.8 353.8 629.0 353.8C633.2 353.8 634.8 354.7 637.8 355.0C640.7 355.3 645.0 355.5 646.5 355.6M596.2 358.1C599.0 358.1 606.9 358.2 612.8 358.1C618.6 358.0 625.9 357.5 631.5 357.5C637.1 357.5 644.0 358.0 646.5 358.1M596.2 360.6C598.0 360.7 602.7 361.5 606.5 361.2C610.3 361.0 614.8 359.8 619.0 359.4C623.2 358.9 626.9 358.6 631.5 358.5C636.1 358.4 644.0 358.7 646.5 358.8M596.2 365.0C597.5 365.2 601.2 366.2 604.0 366.2C606.8 366.2 609.8 365.7 612.8 365.0C615.7 364.3 618.4 362.6 621.5 361.9C624.6 361.1 627.3 360.7 631.5 360.6C635.7 360.5 644.0 361.1 646.5 361.2M596.2 367.5C598.0 367.8 602.7 369.0 606.5 369.4C610.3 369.8 615.2 370.2 619.0 370.0C622.8 369.8 625.9 369.0 629.0 368.1C632.1 367.3 634.8 365.8 637.8 365.0C640.7 364.2 645.0 363.4 646.5 363.1M596.2 371.2C598.0 371.4 602.7 371.9 606.5 371.9C610.3 371.9 614.8 371.2 619.0 371.2C623.2 371.2 626.9 371.8 631.5 371.9C636.1 372.0 644.0 371.9 646.5 371.9"/>
<path class="b" clip-path="url(#k19)" d="M596.2 382.5C597.5 381.9 601.2 380.2 604.0 378.8C606.8 377.3 609.8 375.0 612.8 373.8C615.7 372.5 618.4 371.7 621.5 371.0C624.6 370.3 627.3 369.8 631.5 369.4C635.7 369.0 644.0 368.6 646.5 368.5M596.2 393.8C597.3 392.9 600.4 390.5 602.8 388.8C605.1 387.0 607.5 385.0 610.2 383.1C613.0 381.2 616.1 379.0 619.0 377.5C621.9 376.0 624.6 375.2 627.8 374.4C630.9 373.6 634.6 373.1 637.8 372.8C640.9 372.4 645.0 372.3 646.5 372.2M596.2 396.9C597.1 396.5 599.8 395.4 601.5 394.4C603.2 393.3 604.6 392.0 606.5 390.6C608.4 389.3 610.7 387.7 612.8 386.2C614.8 384.8 616.9 383.2 619.0 381.9C621.1 380.5 623.2 379.2 625.2 378.1C627.3 377.1 629.2 376.4 631.5 375.6C633.8 374.9 636.5 374.2 639.0 373.8C641.5 373.3 645.2 372.9 646.5 372.8M596.2 381.9C597.1 382.2 599.4 382.9 601.5 383.8C603.6 384.6 606.1 386.0 609.0 386.9C611.9 387.7 615.2 388.5 619.0 388.8C622.8 389.0 626.9 388.4 631.5 388.1C636.1 387.8 644.0 387.1 646.5 386.9M596.2 388.8C597.5 388.9 601.5 389.4 604.0 389.4C606.5 389.4 609.0 388.9 611.5 388.8C614.0 388.6 617.8 388.8 619.0 388.8M596.2 383.8C597.1 384.1 599.8 384.8 601.5 385.6C603.2 386.5 604.8 387.5 606.5 388.8C608.2 390.0 609.8 391.8 611.5 393.1C613.2 394.5 614.6 395.4 616.5 396.9C618.4 398.3 620.7 400.2 622.8 401.9C624.8 403.5 626.7 405.4 629.0 406.9C631.3 408.3 633.6 409.7 636.5 410.6C639.4 411.6 644.8 412.2 646.5 412.5M596.2 400.0C597.5 399.7 601.5 398.6 604.0 398.1C606.5 397.6 609.4 397.1 611.5 396.9C613.6 396.7 615.7 396.9 616.5 396.9M596.2 401.2C597.1 401.6 599.8 402.1 601.5 403.1C603.2 404.2 604.8 405.9 606.5 407.5C608.2 409.1 609.8 411.0 611.5 412.5C613.2 414.0 614.4 415.3 616.5 416.2C618.6 417.2 621.5 417.6 624.0 418.1C626.5 418.6 629.0 418.9 631.5 419.4C634.0 419.9 636.5 420.7 639.0 421.2C641.5 421.8 645.2 422.3 646.5 422.5M596.2 407.5C597.1 407.8 599.8 408.5 601.5 409.4C603.2 410.2 604.6 411.2 606.5 412.5C608.4 413.8 610.7 415.5 612.8 416.9C614.8 418.2 616.7 419.5 619.0 420.6C621.3 421.8 624.0 422.9 626.5 423.8C629.0 424.6 631.5 425.2 634.0 425.6C636.5 426.0 639.4 426.2 641.5 426.2C643.6 426.2 645.7 425.7 646.5 425.6M596.2 413.1C597.1 413.2 599.8 413.5 601.5 413.8C603.2 414.0 604.8 414.1 606.5 414.4C608.2 414.7 609.4 414.8 611.5 415.6C613.6 416.5 616.5 418.2 619.0 419.4C621.5 420.5 623.8 421.7 626.5 422.5C629.2 423.3 632.8 424.1 635.2 424.4C637.8 424.6 639.6 424.2 641.5 424.0C643.4 423.8 645.7 423.3 646.5 423.1M596.2 416.2C597.1 416.2 599.8 416.4 601.5 416.2C603.2 416.1 604.6 415.6 606.5 415.6C608.4 415.7 610.7 416.1 612.8 416.5C614.8 416.9 618.0 417.9 619.0 418.1M596.2 438.5C597.5 438.6 601.2 438.8 604.0 439.4C606.8 439.9 609.8 440.7 612.8 441.9C615.7 443.0 618.4 444.6 621.5 446.2C624.6 447.9 628.6 450.3 631.5 451.9C634.4 453.4 636.5 454.6 639.0 455.6C641.5 456.7 645.2 457.7 646.5 458.1M596.2 440.0C598.0 440.3 603.1 440.9 606.5 441.9C609.9 442.8 613.2 444.1 616.5 445.6C619.8 447.2 623.2 449.5 626.5 451.2C629.8 453.0 633.2 454.9 636.5 456.2C639.8 457.6 644.8 458.9 646.5 459.4M596.2 448.8C597.5 448.9 601.2 449.0 604.0 449.4C606.8 449.8 609.8 450.3 612.8 451.2C615.7 452.2 618.8 453.8 621.5 455.0C624.2 456.2 626.5 457.5 629.0 458.8C631.5 460.0 633.6 461.2 636.5 462.5C639.4 463.8 644.8 465.6 646.5 466.2M596.2 451.2C598.0 451.6 603.1 452.2 606.5 453.1C609.9 454.1 613.2 455.5 616.5 456.9C619.8 458.2 623.2 459.9 626.5 461.2C629.8 462.6 633.2 463.8 636.5 465.0C639.8 466.2 644.8 468.1 646.5 468.8M596.2 456.2C597.5 456.5 601.7 456.9 604.0 457.5C606.3 458.1 607.8 459.0 610.2 460.0C612.8 461.0 615.9 462.3 619.0 463.8C622.1 465.2 627.3 467.9 629.0 468.8"/>
<path class="b" clip-path="url(#k20)" d="M596.2 455.0C597.5 455.1 601.0 454.9 604.0 455.6C607.0 456.4 610.7 458.2 614.0 459.4C617.3 460.5 620.7 461.9 624.0 462.5C627.3 463.1 630.2 463.2 634.0 463.1C637.8 463.0 644.4 462.1 646.5 461.9M596.2 451.2C598.0 451.4 603.1 451.1 606.5 451.9C609.9 452.6 613.2 454.4 616.5 455.6C619.8 456.9 623.2 458.4 626.5 459.4C629.8 460.3 633.2 460.9 636.5 461.2C639.8 461.6 644.8 461.2 646.5 461.2M612.8 450.0C614.2 450.5 618.4 452.0 621.5 453.1C624.6 454.3 628.2 455.7 631.5 456.9C634.8 458.0 639.0 459.3 641.5 460.0C644.0 460.7 645.7 460.8 646.5 461.0M626.5 450.0C628.0 450.5 632.3 452.0 635.2 453.1C638.2 454.3 642.1 456.0 644.0 456.9C645.9 457.7 646.1 457.9 646.5 458.1M596.2 478.1C597.5 478.0 601.0 478.0 604.0 477.5C607.0 477.0 610.7 476.1 614.0 475.0C617.3 473.9 620.9 472.0 624.0 470.6C627.1 469.3 630.2 467.6 632.8 466.9C635.2 466.1 636.7 466.2 639.0 466.2C641.3 466.2 645.2 466.8 646.5 466.9M596.2 481.9C597.5 481.7 601.0 481.2 604.0 480.6C607.0 480.0 611.1 478.7 614.0 478.1C616.9 477.6 619.0 477.2 621.5 477.2C624.0 477.3 626.5 478.0 629.0 478.5C631.5 479.0 633.6 479.8 636.5 480.0C639.4 480.2 644.8 480.0 646.5 480.0M596.2 492.5C597.5 492.3 601.0 492.1 604.0 491.2C607.0 490.4 610.7 488.9 614.0 487.5C617.3 486.1 620.7 484.3 624.0 483.1C627.3 482.0 630.2 481.1 634.0 480.6C637.8 480.1 644.4 480.1 646.5 480.0M596.2 494.4C598.0 494.3 602.7 494.2 606.5 493.8C610.3 493.3 614.8 492.3 619.0 491.9C623.2 491.5 627.8 491.6 631.5 491.2C635.2 490.9 639.0 490.2 641.5 490.0C644.0 489.8 645.7 489.8 646.5 489.8M596.2 496.2C597.5 496.4 601.5 496.2 604.0 496.9C606.5 497.5 609.0 499.2 611.5 500.0C614.0 500.8 616.5 501.9 619.0 501.9C621.5 501.9 624.0 501.0 626.5 500.0C629.0 499.0 631.5 497.1 634.0 495.6C636.5 494.2 639.4 492.2 641.5 491.2C643.6 490.3 645.7 490.2 646.5 490.0M596.2 510.0C597.5 509.8 601.0 509.6 604.0 508.8C607.0 507.9 610.7 506.5 614.0 505.0C617.3 503.5 620.7 501.6 624.0 500.0C627.3 498.4 630.7 496.9 634.0 495.6C637.3 494.4 641.9 493.1 644.0 492.5C646.1 491.9 646.1 492.0 646.5 491.9M596.2 513.1C597.5 513.0 601.0 512.9 604.0 512.2C607.0 511.6 610.7 510.7 614.0 509.4C617.3 508.1 620.7 506.0 624.0 504.4C627.3 502.7 630.7 501.0 634.0 499.4C637.3 497.7 641.9 495.4 644.0 494.4C646.1 493.3 646.1 493.3 646.5 493.1"/>
<path class="b" d="M596.2 188.5C598.1 188.7 603.5 188.5 607.5 189.6C611.5 190.6 615.8 192.9 620.0 194.8C624.2 196.7 628.1 199.1 632.5 201.0C636.9 203.0 644.1 205.4 646.5 206.2M596.2 208.3C600.2 208.2 611.6 207.6 620.0 207.3C628.4 206.9 642.0 206.4 646.5 206.2M596.2 214.6C599.2 214.5 608.4 214.7 613.8 214.2C619.1 213.6 622.9 212.6 628.3 211.5C633.8 210.3 643.4 208.0 646.5 207.3M596.2 217.7C599.2 217.7 608.4 218.1 613.8 217.7C619.1 217.4 624.5 216.5 628.3 215.6C632.2 214.8 633.6 213.7 636.7 212.5C639.7 211.3 644.8 209.0 646.5 208.3M596.2 219.8C600.2 219.8 611.6 220.0 620.0 219.8C628.4 219.6 642.0 218.9 646.5 218.8M596.2 224.0C600.2 223.8 611.6 223.4 620.0 222.9C628.4 222.4 642.0 221.2 646.5 220.8M596.2 226.0C600.2 225.9 611.6 225.7 620.0 225.0C628.4 224.3 642.0 222.4 646.5 221.9"/>
</g>
<g clip-path="url(#c3)">
<path class="b" clip-path="url(#k18)" d="M662.8 308.8C664.2 308.8 668.4 308.7 671.5 309.0C674.6 309.3 677.8 309.9 681.5 310.6C685.2 311.3 689.8 312.4 694.0 313.1C698.2 313.9 703.3 314.6 706.5 315.0C709.7 315.4 711.9 315.5 713.0 315.6M662.8 321.2C665.9 321.2 675.2 321.2 681.5 321.0C687.8 320.8 695.0 320.2 700.2 320.0C705.5 319.8 710.9 319.8 713.0 319.8M662.8 338.1C664.2 338.1 668.8 338.4 671.5 338.1C674.2 337.8 676.5 337.1 679.0 336.2C681.5 335.4 684.0 334.2 686.5 333.1C689.0 332.1 691.5 330.8 694.0 330.0C696.5 329.2 698.3 328.6 701.5 328.1C704.7 327.7 711.1 327.4 713.0 327.2M662.8 341.9C665.9 341.9 675.2 342.0 681.5 342.2C687.8 342.5 695.0 343.2 700.2 343.5C705.5 343.8 710.9 343.9 713.0 344.0M662.8 353.1C663.8 353.0 666.9 353.0 669.0 352.5C671.1 352.0 673.2 351.2 675.2 350.0C677.3 348.8 679.4 346.8 681.5 345.0C683.6 343.2 685.7 341.2 687.8 339.4C689.8 337.5 691.9 335.3 694.0 333.8C696.1 332.2 698.2 330.9 700.2 330.0C702.3 329.1 704.4 328.5 706.5 328.1C708.6 327.7 711.9 327.6 713.0 327.5M662.8 357.5C664.2 357.4 668.4 357.3 671.5 356.9C674.6 356.5 678.2 355.4 681.5 355.0C684.8 354.6 686.2 354.4 691.5 354.4C696.8 354.4 709.4 354.9 713.0 355.0M662.8 359.4C664.8 359.2 671.1 358.9 675.2 358.5C679.4 358.1 683.6 357.1 687.8 356.9C691.9 356.6 696.0 356.8 700.2 356.9C704.5 357.0 710.9 357.4 713.0 357.5M662.8 363.1C664.2 362.8 668.4 361.8 671.5 361.2C674.6 360.7 677.8 360.1 681.5 359.8C685.2 359.4 688.8 359.4 694.0 359.4C699.2 359.4 709.8 359.7 713.0 359.8M662.8 366.2C663.8 366.0 666.3 365.7 669.0 365.0C671.7 364.3 675.9 362.5 679.0 361.9C682.1 361.2 684.2 361.2 687.8 361.0C691.3 360.8 696.0 360.8 700.2 360.6C704.5 360.5 710.9 360.1 713.0 360.0M662.8 371.2C664.2 371.6 668.4 373.0 671.5 373.1C674.6 373.2 678.2 372.6 681.5 371.9C684.8 371.1 688.2 369.8 691.5 368.8C694.8 367.7 697.9 366.5 701.5 365.6C705.1 364.8 711.1 364.1 713.0 363.8"/>
<path class="b" clip-path="url(#k19)" d="M662.8 371.2C664.8 371.4 671.7 371.9 675.2 371.9C678.8 371.8 681.3 371.3 684.0 371.0C686.7 370.7 688.6 370.4 691.5 370.0C694.4 369.6 697.9 369.2 701.5 368.8C705.1 368.3 711.1 367.7 713.0 367.5M662.8 380.0C663.8 380.3 666.9 380.9 669.0 381.9C671.1 382.8 673.2 384.6 675.2 385.6C677.3 386.7 678.8 387.5 681.5 388.1C684.2 388.8 688.2 389.2 691.5 389.4C694.8 389.5 697.9 389.1 701.5 389.0C705.1 388.9 711.1 388.6 713.0 388.5M662.8 386.2C664.2 386.5 668.8 386.8 671.5 387.5C674.2 388.2 676.5 389.6 679.0 390.6C681.5 391.7 684.0 392.9 686.5 393.8C689.0 394.6 691.1 395.3 694.0 395.6C696.9 395.9 700.8 395.7 704.0 395.6C707.2 395.5 711.5 395.1 713.0 395.0M662.8 396.9C664.2 396.9 668.8 396.8 671.5 397.2C674.2 397.7 676.5 398.8 679.0 399.4C681.5 400.0 683.6 400.6 686.5 401.0C689.4 401.4 693.2 401.7 696.5 401.9C699.8 402.0 703.8 401.9 706.5 401.9C709.2 401.8 711.9 401.6 713.0 401.5M662.8 408.8C664.2 408.6 668.4 408.4 671.5 408.1C674.6 407.8 678.8 407.0 681.5 406.9C684.2 406.8 685.7 406.9 687.8 407.5C689.8 408.1 691.7 409.7 694.0 410.6C696.3 411.6 699.0 412.6 701.5 413.1C704.0 413.7 707.1 413.9 709.0 414.0C710.9 414.1 712.3 414.0 713.0 414.0M662.8 420.0C663.8 419.7 666.7 418.9 669.0 418.1C671.3 417.4 674.0 416.4 676.5 415.6C679.0 414.9 681.5 414.2 684.0 413.8C686.5 413.3 688.8 412.9 691.5 413.1C694.2 413.3 697.5 414.2 700.2 415.0C703.0 415.8 705.6 417.4 707.8 418.1C709.9 418.9 712.1 419.2 713.0 419.4M662.8 420.6C663.8 420.8 666.7 421.0 669.0 421.9C671.3 422.7 674.0 423.9 676.5 425.6C679.0 427.4 681.5 429.9 684.0 432.5C686.5 435.1 689.2 438.5 691.5 441.2C693.8 444.0 695.7 446.5 697.8 448.8C699.8 451.0 702.1 453.4 704.0 455.0C705.9 456.6 707.5 457.5 709.0 458.1C710.5 458.8 712.3 458.9 713.0 459.0M662.8 453.8C664.2 454.0 668.4 454.5 671.5 455.0C674.6 455.5 678.2 456.6 681.5 456.9C684.8 457.2 688.2 457.0 691.5 456.9C694.8 456.8 697.9 456.5 701.5 456.2C705.1 456.0 711.1 455.7 713.0 455.6"/>
<path class="b" clip-path="url(#k20)" d="M697.8 450.0C698.6 450.6 700.9 452.6 702.8 453.8C704.6 454.9 707.3 456.0 709.0 456.9C710.7 457.7 712.3 458.4 713.0 458.8M662.8 454.4C664.2 454.5 668.4 454.4 671.5 455.0C674.6 455.6 678.2 457.5 681.5 458.1C684.8 458.8 688.2 459.0 691.5 459.0C694.8 459.0 697.9 458.5 701.5 458.1C705.1 457.8 711.1 457.1 713.0 456.9M662.8 465.6C664.8 465.6 671.1 465.5 675.2 465.6C679.4 465.8 683.6 466.2 687.8 466.5C691.9 466.8 696.0 467.3 700.2 467.5C704.5 467.7 710.9 467.7 713.0 467.8M662.8 478.1C664.2 478.2 668.4 478.0 671.5 478.5C674.6 479.0 678.2 480.3 681.5 481.2C684.8 482.2 688.4 483.9 691.5 484.4C694.6 484.9 696.7 484.6 700.2 484.4C703.8 484.1 710.9 483.0 713.0 482.8M662.8 498.8C664.2 498.3 668.4 497.4 671.5 496.2C674.6 495.1 678.2 493.4 681.5 491.9C684.8 490.3 688.4 488.2 691.5 486.9C694.6 485.6 696.7 484.7 700.2 484.0C703.8 483.3 710.9 482.8 713.0 482.5M662.8 500.0C664.2 500.0 668.4 500.0 671.5 499.8C674.6 499.5 678.2 499.4 681.5 498.8C684.8 498.1 688.2 496.9 691.5 495.6C694.8 494.4 697.9 492.5 701.5 491.2C705.1 490.0 711.1 488.6 713.0 488.1"/>
<path class="b" d="M662.7 197.9C664.6 198.1 670.2 198.1 674.2 199.0C678.2 199.8 682.5 201.7 686.7 203.1C690.8 204.5 694.8 206.3 699.2 207.3C703.5 208.3 710.6 209.0 712.9 209.4M662.7 212.5C666.7 212.5 678.3 212.7 686.7 212.5C695.0 212.3 708.5 211.6 712.9 211.5M662.7 214.0C666.7 214.0 678.3 214.2 686.7 214.0C695.0 213.7 708.5 212.7 712.9 212.5M662.7 224.0C665.3 223.6 673.3 222.9 678.3 221.9C683.4 220.8 687.2 219.1 692.9 217.7C698.7 216.3 709.6 214.2 712.9 213.5M662.7 226.0C665.3 225.7 673.3 225.0 678.3 224.0C683.4 222.9 687.2 221.2 692.9 219.8C698.7 218.4 709.6 216.3 712.9 215.6"/>
</g>
<g clip-path="url(#c4)">
<path class="d" stroke="#1f77b4" d="M729.6 209.1C729.8 209.4 731.0 211.5 731.0 212.2C731.0 212.9 729.8 214.9 729.6 215.3"/>
<path class="d" stroke="#1f77b4" d="M729.6 297.8C729.8 298.7 730.8 302.9 731.0 305.6C731.3 308.4 730.3 318.3 731.8 321.2C733.4 324.2 742.7 328.8 744.3 330.6C746.0 332.4 746.2 335.8 745.9 336.9C745.5 338.0 739.7 339.3 741.2 340.0C742.6 340.7 758.6 342.2 758.4 343.1C758.2 344.0 740.9 346.8 739.6 347.8C738.3 348.8 744.7 350.8 747.4 351.7C750.2 352.6 757.8 355.0 763.1 355.6C768.3 356.3 791.5 357.0 792.8 357.5C794.0 358.0 774.7 359.1 774.0 359.5C773.3 360.0 782.9 360.8 786.5 361.1C790.1 361.4 803.8 361.5 805.2 361.9C806.7 362.2 795.7 363.6 799.0 364.2C802.3 364.8 834.8 366.3 833.4 366.9C831.9 367.4 796.9 368.1 786.5 368.9C776.1 369.7 749.8 372.6 744.3 373.6C738.8 374.6 739.6 376.3 739.6 377.5C739.6 378.7 743.8 382.5 744.3 383.8C744.9 385.0 744.9 386.6 744.3 387.8C743.8 389.0 739.8 392.4 739.6 394.1C739.4 395.7 741.1 400.2 742.8 401.9C744.4 403.5 754.1 407.0 753.7 408.1C753.3 409.2 740.0 410.2 739.6 411.2C739.3 412.3 750.9 415.4 750.6 416.7C750.2 418.0 738.7 421.0 736.5 422.2C734.3 423.4 732.4 424.5 731.8 426.9C731.3 429.2 731.4 439.8 731.8 442.5C732.2 445.2 734.8 448.1 734.9 450.3C735.1 452.5 733.4 459.1 733.4 461.2C733.4 463.4 735.1 467.6 734.9 469.1C734.8 470.5 732.4 472.6 731.8 473.8C731.3 474.9 730.2 476.7 730.2 478.8C730.2 480.8 731.8 488.3 731.8 491.2C731.8 494.2 730.5 501.0 730.2 503.8C730.0 506.5 729.7 513.4 729.6 514.7"/>
<path class="d" stroke="#ff7f0e" d="M729.6 195.0C730.0 196.8 732.1 208.6 732.6 210.6C733.1 212.6 734.3 211.1 734.2 212.2C734.0 213.3 731.6 218.7 731.0 220.0C730.5 221.3 729.8 222.8 729.6 223.1"/>
<path class="d" stroke="#ff7f0e" d="M729.6 297.8C730.8 298.5 737.0 302.7 739.6 304.1C742.2 305.4 749.4 308.6 752.1 309.5C754.9 310.4 759.2 311.3 763.1 311.9C766.9 312.4 784.9 313.8 784.9 314.2C784.9 314.7 768.0 315.4 763.1 315.8C758.1 316.1 743.7 316.9 742.8 317.3C741.8 317.8 749.8 319.1 755.2 319.7C760.7 320.2 783.1 321.7 789.6 322.0C796.2 322.4 811.9 322.5 811.5 322.8C811.1 323.1 791.2 324.3 786.5 324.7C781.8 325.1 771.8 325.6 770.9 325.9C770.0 326.3 775.4 327.0 778.7 327.5C782.0 328.0 795.2 329.7 799.0 330.6C802.8 331.5 808.9 334.6 811.5 335.3C814.1 336.0 821.6 336.5 820.9 336.9C820.1 337.2 808.3 338.1 805.2 338.4C802.2 338.8 792.9 339.6 794.3 340.0C795.8 340.4 811.0 341.2 817.8 341.6C824.5 342.0 852.1 343.0 852.1 343.4C852.1 343.9 825.4 345.0 817.8 345.5C810.1 345.9 792.5 346.6 786.5 347.0C780.5 347.5 766.2 349.0 766.2 349.4C766.2 349.7 781.9 349.8 786.5 350.2C791.1 350.5 802.7 352.0 805.2 352.5C807.8 353.0 809.7 353.6 808.4 354.1C807.1 354.5 793.2 356.0 794.3 356.4C795.4 356.8 812.3 357.0 817.8 357.2C823.2 357.4 842.6 357.7 841.2 358.0C839.7 358.2 812.9 359.2 805.2 359.5C797.6 359.9 776.8 360.7 775.6 361.1C774.3 361.5 793.0 362.2 794.3 362.7C795.6 363.1 789.2 364.6 786.5 365.0C783.8 365.4 770.5 365.5 770.9 365.8C771.2 366.1 790.5 366.9 789.6 367.3C788.7 367.8 768.2 369.0 763.1 369.7C758.0 370.3 748.6 372.2 745.9 372.8C743.1 373.5 739.4 374.4 739.6 375.2C739.8 375.9 745.6 378.1 747.4 379.1C749.3 380.1 754.9 382.5 755.2 383.8C755.6 385.0 752.4 388.2 750.6 389.4C748.7 390.6 740.4 393.2 739.6 394.1C738.9 395.0 744.1 396.4 744.3 397.2C744.5 398.0 740.3 400.1 741.2 401.1C742.1 402.1 749.6 405.0 752.1 405.8C754.7 406.6 763.6 407.5 763.1 408.1C762.5 408.8 748.7 410.5 747.4 411.2C746.2 412.0 749.7 413.6 752.1 414.4C754.6 415.1 769.4 416.7 768.5 417.5C767.6 418.3 748.4 420.0 744.3 420.9C740.2 421.8 734.8 423.7 733.4 425.3C731.9 426.9 731.6 432.5 731.8 434.7C732.0 436.9 734.0 442.2 734.9 444.1C735.8 445.9 739.3 448.7 739.6 450.3C740.0 452.0 738.1 456.3 738.1 458.1C738.1 459.9 740.2 464.1 739.6 465.9C739.1 467.8 734.4 472.3 733.4 473.8C732.4 475.2 730.5 477.6 731.0 478.8C731.6 479.9 738.1 482.5 738.1 483.4C738.1 484.3 731.6 485.7 731.0 486.6C730.5 487.5 733.4 489.8 733.4 491.2C733.4 492.7 731.4 496.3 731.0 499.1C730.6 501.8 730.1 512.9 729.9 514.7"/>
<path class="d" stroke="#2ca02c" d="M729.6 186.4C730.2 187.2 733.8 191.5 734.9 193.4C736.1 195.4 738.5 201.3 739.6 202.8C740.7 204.4 741.0 205.7 744.3 206.7C747.6 207.7 766.8 210.4 767.8 211.4C768.7 212.4 750.3 214.3 752.1 215.3C753.9 216.4 781.6 219.5 783.4 220.3C785.2 221.1 774.0 221.7 767.8 222.3C761.5 223.0 734.1 225.5 729.6 225.9"/>
<path class="d" stroke="#2ca02c" d="M729.6 299.4C730.6 300.7 736.9 308.7 738.1 310.3C739.2 312.0 740.0 312.6 739.6 313.4C739.3 314.3 733.1 316.2 734.9 317.3C736.8 318.4 755.1 321.8 755.2 322.8C755.4 323.8 738.3 324.5 736.5 325.9C734.7 327.4 739.6 333.5 739.6 335.3C739.6 337.1 736.3 340.6 736.5 341.6C736.7 342.6 741.6 343.0 741.2 343.9C740.8 344.8 733.6 348.0 733.4 349.4C733.2 350.7 738.3 354.5 739.6 355.6C740.9 356.7 745.0 357.7 744.3 358.8C743.6 359.8 733.6 363.5 733.4 364.2C733.2 364.9 742.9 364.4 742.8 365.0C742.6 365.6 732.4 368.6 731.8 369.7C731.3 370.8 736.6 372.7 738.1 374.4C739.5 376.0 743.2 382.4 744.3 383.8C745.4 385.1 748.0 385.2 747.4 386.2C746.9 387.3 740.2 391.4 739.6 392.5C739.1 393.6 742.8 394.5 742.8 395.6C742.8 396.7 739.4 400.4 739.6 401.9C739.8 403.3 744.1 406.8 744.3 408.1C744.5 409.4 740.3 411.7 741.2 412.8C742.1 413.9 752.9 416.2 752.1 417.5C751.4 418.8 737.1 422.1 734.9 423.8C732.8 425.4 733.2 429.4 733.4 431.6C733.6 433.8 735.4 440.3 736.5 442.5C737.6 444.7 742.2 448.5 742.8 450.3C743.3 452.1 741.0 456.3 741.2 458.1C741.4 459.9 745.2 464.1 744.3 465.9C743.4 467.8 734.9 472.3 733.4 473.8C731.8 475.2 731.0 477.1 731.0 478.8C731.0 480.4 732.4 486.4 733.4 488.1C734.4 489.9 739.7 492.3 739.6 493.6C739.5 494.9 733.7 497.0 732.6 499.1C731.5 501.2 730.5 510.1 730.2 511.6"/>
<path class="d" stroke="#d62728" d="M729.6 185.6C730.6 186.2 736.7 188.9 738.1 190.3C739.4 191.8 740.3 196.3 741.2 198.1C742.1 199.9 743.3 204.7 745.9 205.9C748.4 207.2 758.3 208.5 763.1 209.1C767.8 209.6 781.4 210.7 786.5 210.9C791.6 211.2 806.3 211.3 806.8 211.4C807.4 211.6 790.1 211.8 791.2 212.2C792.3 212.6 816.7 214.5 816.2 215.0C815.6 215.5 789.1 216.4 786.5 216.9C783.9 217.4 790.7 218.5 794.3 219.2C798.0 219.9 811.7 222.7 817.8 223.1C823.8 223.6 845.9 222.9 845.9 223.1C845.9 223.3 824.7 224.4 817.8 224.7C810.8 225.0 796.8 225.2 786.5 225.5C776.2 225.7 736.3 226.4 729.6 226.6"/>
<path class="d" stroke="#d62728" d="M729.6 299.4C730.8 300.5 737.7 307.0 739.6 308.8C741.5 310.5 746.4 313.3 745.9 314.2C745.3 315.1 734.9 315.7 734.9 316.6C734.9 317.5 745.7 321.0 745.9 322.0C746.1 323.0 736.7 324.2 736.5 325.2C736.3 326.2 743.6 329.3 744.3 330.6C745.0 332.0 743.3 335.7 742.8 336.9C742.2 338.1 738.3 340.1 739.6 340.8C740.9 341.5 753.9 342.4 753.7 343.1C753.5 343.9 738.8 346.2 738.1 347.0C737.3 347.9 744.7 349.3 747.4 350.2C750.2 351.0 758.8 353.2 761.5 354.1C764.2 355.0 771.2 357.1 770.9 358.0C770.5 358.8 759.1 360.5 758.4 361.1C757.6 361.6 765.9 362.1 764.6 362.7C763.3 363.2 748.0 365.2 747.4 365.8C746.9 366.3 760.5 366.7 759.9 367.3C759.4 368.0 745.1 370.4 742.8 371.2C740.4 372.1 738.2 373.5 739.6 374.4C741.1 375.3 754.2 378.2 755.2 379.1C756.3 380.0 748.5 381.5 749.0 382.2C749.5 382.9 758.7 384.7 759.9 385.3C761.2 386.0 761.8 386.9 759.9 387.8C758.1 388.7 745.0 392.3 744.3 393.3C743.6 394.3 753.9 395.8 753.7 396.4C753.5 397.0 742.2 398.3 742.8 398.8C743.3 399.2 757.8 399.8 758.4 400.3C758.9 400.9 746.3 402.7 747.4 403.4C748.5 404.2 764.7 406.0 767.8 406.6C770.8 407.1 775.8 407.8 774.0 408.4C772.2 409.1 754.3 411.2 752.1 412.0C749.9 412.8 753.8 414.5 755.2 415.2C756.7 415.8 765.4 416.9 764.6 417.5C763.9 418.1 752.3 419.7 749.0 420.6C745.7 421.5 737.8 424.2 736.5 425.3C735.2 426.4 737.5 428.5 738.1 430.0C738.6 431.5 739.9 436.2 741.2 437.8C742.5 439.5 746.6 442.9 749.0 444.1C751.4 445.2 758.6 447.2 761.5 448.0C764.4 448.7 774.4 449.8 774.0 450.3C773.6 450.9 760.6 451.9 758.4 452.7C756.2 453.4 754.9 455.7 755.2 456.6C755.6 457.5 761.9 459.6 761.5 460.5C761.1 461.4 751.9 463.6 752.1 464.4C752.3 465.1 763.1 466.0 763.1 466.7C763.1 467.4 755.6 469.8 752.1 470.6C748.7 471.4 735.6 473.0 733.4 473.8C731.2 474.5 733.4 476.2 733.4 477.2C733.4 478.1 729.9 481.2 733.4 481.9C736.8 482.6 762.5 482.5 763.1 483.1C763.6 483.8 738.2 486.3 738.1 487.3C737.9 488.4 760.8 491.0 761.5 492.0C762.2 493.0 747.0 494.8 744.3 495.9C741.6 497.1 739.3 500.2 738.1 502.2C736.8 504.2 734.2 510.4 733.4 513.1C732.6 515.9 731.5 522.7 731.0 525.6C730.6 528.5 729.8 536.7 729.6 538.1"/>
<path class="d" stroke="#9467bd" d="M729.6 186.4C730.3 186.7 734.8 187.0 735.7 188.8C736.6 190.5 736.8 198.9 737.3 201.2C737.7 203.6 737.0 207.8 739.6 209.1C742.3 210.3 755.4 211.5 759.9 212.2C764.5 212.9 775.6 214.7 778.7 215.3C781.8 216.0 786.9 216.9 786.5 217.7C786.1 218.4 776.1 220.9 775.6 221.6C775.0 222.2 787.2 222.6 781.8 223.1C776.5 223.6 735.7 225.6 729.6 225.9"/>
<path class="d" stroke="#9467bd" d="M729.6 300.9C730.4 302.0 735.3 308.8 736.5 310.3C737.7 311.9 740.0 313.4 739.6 314.2C739.3 315.0 733.0 316.4 733.4 317.3C733.7 318.3 742.6 321.1 742.8 322.0C742.9 322.9 735.8 323.4 734.9 325.2C734.0 326.9 734.8 334.6 734.9 336.9C735.1 339.2 736.7 343.2 736.5 344.7C736.3 346.1 733.0 348.1 733.4 349.4C733.7 350.7 735.6 354.5 739.6 355.6C743.6 356.7 767.4 358.1 767.8 358.8C768.1 359.4 744.6 360.5 742.8 361.1C740.9 361.6 751.9 362.8 752.1 363.4C752.3 364.1 744.9 365.8 744.3 366.6C743.8 367.3 748.5 369.0 747.4 369.7C746.3 370.4 735.8 371.9 734.9 372.8C734.0 373.7 738.7 376.2 739.6 377.5C740.5 378.8 742.4 382.5 742.8 383.8C743.1 385.0 743.3 386.6 742.8 387.8C742.2 389.0 738.2 392.4 738.1 394.1C737.9 395.7 740.5 400.1 741.2 401.9C741.9 403.7 744.5 408.3 744.3 409.7C744.1 411.1 739.3 412.7 739.6 413.6C740.0 414.5 748.0 416.3 747.4 417.5C746.9 418.7 736.8 422.7 734.9 423.8C733.1 424.8 732.0 425.4 731.8 426.9C731.6 428.3 732.5 434.1 733.4 436.2C734.3 438.4 737.8 444.0 739.6 445.6C741.4 447.3 748.3 448.9 749.0 450.3C749.7 451.8 745.7 456.1 745.9 458.1C746.1 460.1 752.0 465.7 750.6 467.5C749.1 469.3 735.7 472.4 733.4 473.8C731.1 475.1 729.8 477.7 731.0 478.8C732.3 479.8 744.0 482.2 744.3 483.1C744.6 484.0 733.9 485.5 733.4 486.6C732.8 487.6 739.6 490.6 739.6 492.0C739.6 493.5 734.4 496.4 733.4 499.1C732.3 501.7 730.9 512.9 730.6 514.7"/>
<path class="d" stroke="#8c564b" d="M729.6 185.6C730.1 186.0 732.5 186.9 733.4 188.8C734.3 190.6 736.6 198.7 737.3 201.2C737.9 203.8 737.8 209.0 738.8 210.6C739.8 212.3 742.7 214.2 745.9 215.3C749.1 216.4 762.0 219.1 766.2 220.0C770.4 220.9 781.8 222.7 781.8 223.1C781.8 223.6 772.3 223.5 766.2 223.9C760.1 224.3 733.9 226.0 729.6 226.2"/>
<path class="d" stroke="#8c564b" d="M729.6 305.6C730.1 306.9 732.6 314.6 733.4 316.6C734.2 318.6 736.5 321.5 736.5 322.8C736.5 324.1 733.6 325.9 733.4 327.5C733.2 329.1 735.0 334.9 734.9 336.9C734.8 338.9 733.0 342.0 732.6 344.7C732.2 347.4 731.7 356.8 731.8 360.3C731.9 363.8 732.8 371.8 733.4 374.4C733.9 376.9 736.0 380.6 736.5 382.2C737.0 383.8 738.4 386.6 738.1 387.8C737.7 389.0 733.6 391.0 733.4 392.5C733.1 394.0 735.4 398.3 735.7 400.3C736.1 402.3 736.0 408.0 736.5 409.7C737.0 411.3 740.0 413.1 739.6 414.4C739.3 415.7 734.4 419.2 733.4 420.6C732.4 422.1 731.2 424.3 731.0 426.9C730.8 429.4 731.5 439.8 731.8 442.5C732.1 445.2 733.1 448.1 733.4 450.3C733.6 452.5 733.9 459.1 734.2 461.2C734.4 463.4 736.1 467.6 735.7 469.1C735.4 470.5 731.3 473.1 731.0 473.8C730.8 474.4 733.1 474.4 733.4 474.8C733.6 475.2 729.0 476.5 733.4 477.2C737.8 477.8 757.4 479.7 770.9 480.3C784.4 481.0 849.0 482.2 849.0 482.7C849.0 483.1 781.6 483.9 770.9 484.2C760.1 484.6 755.9 485.2 756.8 485.8C757.7 486.3 771.9 488.2 778.7 488.9C785.4 489.6 814.4 491.2 814.6 492.0C814.8 492.9 786.8 494.9 780.2 495.9C773.7 496.9 762.2 499.3 758.4 500.6C754.5 501.9 749.6 505.2 747.4 506.9C745.2 508.5 741.3 512.7 739.6 514.7C738.0 516.7 734.4 521.9 733.4 524.1C732.4 526.2 731.4 531.1 731.0 533.4C730.6 535.8 730.1 543.1 729.9 544.4"/>
<path class="t" d="M729.6 185.6C730.8 185.8 737.0 187.0 739.6 187.5C742.2 188.0 749.6 189.1 752.1 190.3C754.7 191.6 759.3 196.7 761.5 198.1C763.7 199.6 769.1 201.8 770.9 202.8C772.7 203.8 774.9 206.1 777.1 206.7C779.3 207.4 786.7 208.0 789.6 208.3C792.5 208.6 798.8 208.8 802.1 209.1C805.4 209.3 810.5 210.1 817.8 210.3C825.0 210.5 856.9 210.2 864.2 210.9C871.4 211.7 880.2 215.2 880.2 216.9C880.2 218.6 871.4 224.5 864.2 225.5C856.9 226.5 828.6 225.4 817.8 225.5C806.9 225.5 781.2 225.8 770.9 225.9C760.6 226.1 734.4 226.5 729.6 226.6"/>
<path class="t" d="M729.6 297.8C732.6 298.5 747.5 302.6 755.2 304.1C763.0 305.5 786.2 309.1 795.9 310.3C805.5 311.5 838.2 313.5 838.1 314.2C837.9 314.9 804.0 315.8 794.3 316.2C784.7 316.7 752.7 317.7 755.2 318.1C757.8 318.5 803.5 319.2 816.2 319.7C828.9 320.1 856.7 321.6 864.2 322.0C871.6 322.5 887.3 323.1 880.2 323.6C873.2 324.1 809.2 325.6 803.7 326.2C798.2 326.9 827.2 328.3 833.4 329.1C839.6 329.8 854.4 332.2 856.8 333.0C859.2 333.7 851.9 334.9 853.7 335.3C855.5 335.7 874.6 335.5 872.4 336.1C870.2 336.6 837.3 339.4 834.9 340.0C832.6 340.6 847.8 341.2 852.1 341.6C856.5 341.9 874.6 342.6 872.4 343.1C870.2 343.7 843.0 345.5 833.4 346.2C823.7 347.0 786.0 348.7 789.6 349.4C793.2 350.0 851.8 350.4 864.2 351.7C876.6 353.0 895.9 358.3 895.9 360.3C895.9 362.3 879.1 367.3 864.2 368.9C849.2 370.5 774.3 373.2 767.8 374.4C761.2 375.6 801.6 378.5 808.4 379.1C815.1 379.6 824.5 378.8 825.6 379.1C826.7 379.3 816.7 380.9 817.8 381.4C818.8 382.0 834.2 383.2 834.9 383.8C835.7 384.3 823.1 385.6 824.0 386.1C824.9 386.5 847.9 386.8 842.8 387.7C837.6 388.5 782.6 392.3 780.2 393.3C777.9 394.3 822.3 395.7 822.4 396.4C822.6 397.1 782.2 399.0 781.8 399.5C781.4 400.1 818.4 400.5 819.3 401.1C820.2 401.6 787.3 403.5 789.6 404.2C792.0 404.9 830.0 406.4 839.6 406.9C849.3 407.3 874.8 407.5 872.4 408.1C870.1 408.7 824.8 411.2 819.3 412.0C813.8 412.9 819.4 414.5 825.6 415.2C831.8 415.8 875.2 416.9 872.4 417.5C869.7 418.1 814.9 419.8 802.1 420.6C789.4 421.4 770.2 423.8 763.1 424.5C756.0 425.3 742.5 425.9 741.2 426.9C739.9 427.9 749.0 431.5 752.1 433.1C755.2 434.8 762.3 439.2 767.8 440.9C773.2 442.7 791.9 446.9 799.0 448.0C806.1 449.1 828.7 449.7 828.7 450.3C828.7 451.0 801.4 452.8 799.0 453.4C796.6 454.1 808.4 455.2 808.4 455.8C808.4 456.3 798.5 457.5 799.0 458.1C799.5 458.8 813.8 460.5 813.1 461.2C812.3 462.0 792.4 463.7 792.8 464.4C793.1 465.0 813.8 466.2 816.2 466.7C818.6 467.3 818.3 468.4 813.1 469.1C807.8 469.7 780.4 471.5 770.9 472.2C761.4 472.8 731.8 473.8 731.8 474.5C731.8 475.3 755.4 477.9 770.9 478.8C786.3 479.6 851.4 481.4 864.2 481.9C876.9 482.3 880.2 482.5 880.2 482.7C880.2 482.8 876.4 483.1 864.2 483.4C851.9 483.8 781.9 485.1 775.6 485.8C769.2 486.4 798.6 488.2 809.9 488.9C821.2 489.6 872.1 491.2 872.4 492.0C872.8 492.9 823.1 495.2 813.1 496.2C803.0 497.3 791.8 499.6 786.5 500.6C781.2 501.7 771.8 503.9 767.8 505.3C763.7 506.8 755.4 511.1 752.1 513.1C748.8 515.1 741.8 520.5 739.6 522.5C737.4 524.5 734.5 528.5 733.4 530.3C732.3 532.1 730.7 536.3 730.2 538.1C729.8 539.9 729.7 545.0 729.6 545.9"/>
</g>
<path class="tk" d="M120.00 546.30h7.30M513.30 546.30h-7.30M120.00 475.70h7.30M513.30 475.70h-7.30M120.00 405.10h7.30M513.30 405.10h-7.30M120.00 334.50h7.30M513.30 334.50h-7.30M120.00 263.90h7.30M513.30 263.90h-7.30M120.00 193.30h7.30M513.30 193.30h-7.30M159.60 564.80v-7.30M159.60 162.00v7.30M205.60 564.80v-7.30M205.60 162.00v7.30M245.20 564.80v-7.30M245.20 162.00v7.30M291.40 564.80v-7.30M291.40 162.00v7.30M341.70 564.80v-7.30M341.70 162.00v7.30M381.10 564.80v-7.30M381.10 162.00v7.30M427.50 564.80v-7.30M427.50 162.00v7.30M466.90 564.80v-7.30M466.90 162.00v7.30"/>
<path class="tk" d="M529.75 546.30h7.30M579.85 546.30h-7.30M529.75 475.70h7.30M579.85 475.70h-7.30M529.75 405.10h7.30M579.85 405.10h-7.30M529.75 334.50h7.30M579.85 334.50h-7.30M529.75 263.90h7.30M579.85 263.90h-7.30M529.75 193.30h7.30M579.85 193.30h-7.30"/>
<path class="tk" d="M596.30 546.30h7.30M646.50 546.30h-7.30M596.30 475.70h7.30M646.50 475.70h-7.30M596.30 405.10h7.30M646.50 405.10h-7.30M596.30 334.50h7.30M646.50 334.50h-7.30M596.30 263.90h7.30M646.50 263.90h-7.30M596.30 193.30h7.30M646.50 193.30h-7.30"/>
<path class="tk" d="M662.80 546.30h7.30M713.00 546.30h-7.30M662.80 475.70h7.30M713.00 475.70h-7.30M662.80 405.10h7.30M713.00 405.10h-7.30M662.80 334.50h7.30M713.00 334.50h-7.30M662.80 263.90h7.30M713.00 263.90h-7.30M662.80 193.30h7.30M713.00 193.30h-7.30"/>
<path class="tk" d="M729.60 546.30h7.30M864.10 546.30h-7.30M729.60 475.70h7.30M864.10 475.70h-7.30M729.60 405.10h7.30M864.10 405.10h-7.30M729.60 334.50h7.30M864.10 334.50h-7.30M729.60 263.90h7.30M864.10 263.90h-7.30M729.60 193.30h7.30M864.10 193.30h-7.30M807.30 564.80v-7.30M807.30 162.00v7.30"/>
<path class="z" d="M120.00 546.30H513.30"/>
<path class="z" d="M529.75 546.30H579.85"/>
<path class="z" d="M596.30 546.30H646.50"/>
<path class="z" d="M662.80 546.30H713.00"/>
<rect class="sp" x="120.00" y="162.00" width="393.30" height="402.80"/>
<rect class="sp" x="529.75" y="162.00" width="50.10" height="402.80"/>
<rect class="sp" x="596.30" y="162.00" width="50.20" height="402.80"/>
<rect class="sp" x="662.80" y="162.00" width="50.20" height="402.80"/>
<rect class="sp" x="729.60" y="162.00" width="134.50" height="402.80"/>
<text x="120.0" y="586.6" text-anchor="middle">Γ</text>
<text x="159.6" y="586.6" text-anchor="middle">X</text>
<text x="205.6" y="586.6" text-anchor="middle">S</text>
<text x="245.2" y="586.6" text-anchor="middle">Y</text>
<text x="291.4" y="586.6" text-anchor="middle">Γ</text>
<text x="341.7" y="586.6" text-anchor="middle">Z</text>
<text x="381.1" y="586.6" text-anchor="middle">U</text>
<text x="427.5" y="586.6" text-anchor="middle">R</text>
<text x="466.9" y="586.6" text-anchor="middle">T</text>
<text x="513.3" y="586.6" text-anchor="middle">Z</text>
<text x="529.8" y="586.6" text-anchor="middle">X</text>
<text x="579.9" y="586.6" text-anchor="middle">U</text>
<text x="596.3" y="586.6" text-anchor="middle">Y</text>
<text x="646.5" y="586.6" text-anchor="middle">T</text>
<text x="662.8" y="586.6" text-anchor="middle">S</text>
<text x="713.0" y="586.6" text-anchor="middle">R</text>
<text x="729.6" y="586.6" text-anchor="middle">0.0</text>
<text x="807.3" y="586.6" text-anchor="middle">2.5</text>
<text x="111.3" y="553.9" text-anchor="end" style="letter-spacing:-0.6px">0</text>
<text x="111.3" y="483.3" text-anchor="end" style="letter-spacing:-0.6px">5</text>
<text x="111.3" y="412.7" text-anchor="end" style="letter-spacing:-0.6px">10</text>
<text x="111.3" y="342.1" text-anchor="end" style="letter-spacing:-0.6px">15</text>
<text x="111.3" y="271.5" text-anchor="end" style="letter-spacing:-0.6px">20</text>
<text x="111.3" y="200.9" text-anchor="end" style="letter-spacing:-0.6px">25</text>
<text transform="translate(74.4 363.8) rotate(-90)" text-anchor="middle">Frequency (THz)</text>
</svg></body></html>
